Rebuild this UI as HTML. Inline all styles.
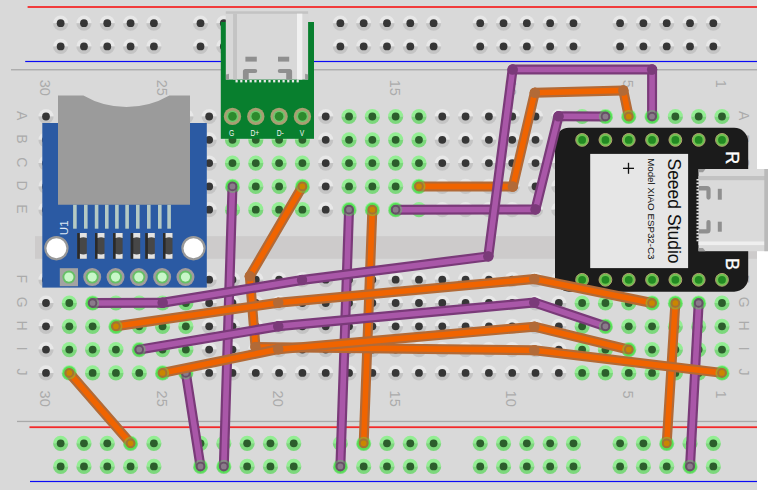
<!DOCTYPE html>
<html><head><meta charset="utf-8"><style>
html,body{margin:0;padding:0;background:#fff;width:768px;height:492px;overflow:hidden;}
svg{display:block;font-family:"Liberation Sans",sans-serif;}
</style></head><body>
<svg width="768" height="492" viewBox="0 0 768 492">
<rect width="768" height="492" fill="#ffffff"/>
<rect x="0" y="0" width="757" height="490" fill="#d9d9d9"/>
<rect x="27.6" y="6.1" width="729.4" height="1.8" fill="#f32a2a"/>
<rect x="25.2" y="60.9" width="731.8" height="1.2" fill="#0a0af5"/>
<rect x="11" y="69.1" width="746" height="1.3" fill="#a9a9a9"/>
<rect x="17" y="420.8" width="740" height="1.3" fill="#a9a9a9"/>
<rect x="29.5" y="426.3" width="727.5" height="1.8" fill="#f32a2a"/>
<rect x="30" y="480.9" width="727" height="1.2" fill="#0a0af5"/>
<rect x="35" y="236.1" width="722" height="22.7" fill="#cdcbcb"/>
<path d="M53.05 23.2A7.6 7.6 0 0 1 68.25 23.2Z" fill="#e8e8e8"/>
<path d="M53.05 23.2A7.6 7.6 0 0 0 68.25 23.2Z" fill="#c4c4c4"/>
<circle cx="60.65" cy="23.2" r="3.9" fill="#363636"/>
<path d="M53.05 46.4A7.6 7.6 0 0 1 68.25 46.4Z" fill="#e8e8e8"/>
<path d="M53.05 46.4A7.6 7.6 0 0 0 68.25 46.4Z" fill="#c4c4c4"/>
<circle cx="60.65" cy="46.4" r="3.9" fill="#363636"/>
<path d="M53.05 443.3A7.6 7.6 0 0 1 68.25 443.3Z" fill="#93ee93"/>
<path d="M53.05 443.3A7.6 7.6 0 0 0 68.25 443.3Z" fill="#7cd87c"/>
<circle cx="60.65" cy="443.3" r="3.9" fill="#2c5e2c"/>
<path d="M53.05 466.4A7.6 7.6 0 0 1 68.25 466.4Z" fill="#93ee93"/>
<path d="M53.05 466.4A7.6 7.6 0 0 0 68.25 466.4Z" fill="#7cd87c"/>
<circle cx="60.65" cy="466.4" r="3.9" fill="#2c5e2c"/>
<path d="M76.36 23.2A7.6 7.6 0 0 1 91.56 23.2Z" fill="#e8e8e8"/>
<path d="M76.36 23.2A7.6 7.6 0 0 0 91.56 23.2Z" fill="#c4c4c4"/>
<circle cx="83.96" cy="23.2" r="3.9" fill="#363636"/>
<path d="M76.36 46.4A7.6 7.6 0 0 1 91.56 46.4Z" fill="#e8e8e8"/>
<path d="M76.36 46.4A7.6 7.6 0 0 0 91.56 46.4Z" fill="#c4c4c4"/>
<circle cx="83.96" cy="46.4" r="3.9" fill="#363636"/>
<path d="M76.36 443.3A7.6 7.6 0 0 1 91.56 443.3Z" fill="#93ee93"/>
<path d="M76.36 443.3A7.6 7.6 0 0 0 91.56 443.3Z" fill="#7cd87c"/>
<circle cx="83.96" cy="443.3" r="3.9" fill="#2c5e2c"/>
<path d="M76.36 466.4A7.6 7.6 0 0 1 91.56 466.4Z" fill="#93ee93"/>
<path d="M76.36 466.4A7.6 7.6 0 0 0 91.56 466.4Z" fill="#7cd87c"/>
<circle cx="83.96" cy="466.4" r="3.9" fill="#2c5e2c"/>
<path d="M99.67 23.2A7.6 7.6 0 0 1 114.87 23.2Z" fill="#e8e8e8"/>
<path d="M99.67 23.2A7.6 7.6 0 0 0 114.87 23.2Z" fill="#c4c4c4"/>
<circle cx="107.27" cy="23.2" r="3.9" fill="#363636"/>
<path d="M99.67 46.4A7.6 7.6 0 0 1 114.87 46.4Z" fill="#e8e8e8"/>
<path d="M99.67 46.4A7.6 7.6 0 0 0 114.87 46.4Z" fill="#c4c4c4"/>
<circle cx="107.27" cy="46.4" r="3.9" fill="#363636"/>
<path d="M99.67 443.3A7.6 7.6 0 0 1 114.87 443.3Z" fill="#93ee93"/>
<path d="M99.67 443.3A7.6 7.6 0 0 0 114.87 443.3Z" fill="#7cd87c"/>
<circle cx="107.27" cy="443.3" r="3.9" fill="#2c5e2c"/>
<path d="M99.67 466.4A7.6 7.6 0 0 1 114.87 466.4Z" fill="#93ee93"/>
<path d="M99.67 466.4A7.6 7.6 0 0 0 114.87 466.4Z" fill="#7cd87c"/>
<circle cx="107.27" cy="466.4" r="3.9" fill="#2c5e2c"/>
<path d="M122.98 23.2A7.6 7.6 0 0 1 138.18 23.2Z" fill="#e8e8e8"/>
<path d="M122.98 23.2A7.6 7.6 0 0 0 138.18 23.2Z" fill="#c4c4c4"/>
<circle cx="130.58" cy="23.2" r="3.9" fill="#363636"/>
<path d="M122.98 46.4A7.6 7.6 0 0 1 138.18 46.4Z" fill="#e8e8e8"/>
<path d="M122.98 46.4A7.6 7.6 0 0 0 138.18 46.4Z" fill="#c4c4c4"/>
<circle cx="130.58" cy="46.4" r="3.9" fill="#363636"/>
<path d="M122.98 443.3A7.6 7.6 0 0 1 138.18 443.3Z" fill="#93ee93"/>
<path d="M122.98 443.3A7.6 7.6 0 0 0 138.18 443.3Z" fill="#7cd87c"/>
<circle cx="130.58" cy="443.3" r="3.9" fill="#2c5e2c"/>
<path d="M122.98 466.4A7.6 7.6 0 0 1 138.18 466.4Z" fill="#93ee93"/>
<path d="M122.98 466.4A7.6 7.6 0 0 0 138.18 466.4Z" fill="#7cd87c"/>
<circle cx="130.58" cy="466.4" r="3.9" fill="#2c5e2c"/>
<path d="M146.29 23.2A7.6 7.6 0 0 1 161.49 23.2Z" fill="#e8e8e8"/>
<path d="M146.29 23.2A7.6 7.6 0 0 0 161.49 23.2Z" fill="#c4c4c4"/>
<circle cx="153.89" cy="23.2" r="3.9" fill="#363636"/>
<path d="M146.29 46.4A7.6 7.6 0 0 1 161.49 46.4Z" fill="#e8e8e8"/>
<path d="M146.29 46.4A7.6 7.6 0 0 0 161.49 46.4Z" fill="#c4c4c4"/>
<circle cx="153.89" cy="46.4" r="3.9" fill="#363636"/>
<path d="M146.29 443.3A7.6 7.6 0 0 1 161.49 443.3Z" fill="#93ee93"/>
<path d="M146.29 443.3A7.6 7.6 0 0 0 161.49 443.3Z" fill="#7cd87c"/>
<circle cx="153.89" cy="443.3" r="3.9" fill="#2c5e2c"/>
<path d="M146.29 466.4A7.6 7.6 0 0 1 161.49 466.4Z" fill="#93ee93"/>
<path d="M146.29 466.4A7.6 7.6 0 0 0 161.49 466.4Z" fill="#7cd87c"/>
<circle cx="153.89" cy="466.4" r="3.9" fill="#2c5e2c"/>
<path d="M192.91 23.2A7.6 7.6 0 0 1 208.11 23.2Z" fill="#e8e8e8"/>
<path d="M192.91 23.2A7.6 7.6 0 0 0 208.11 23.2Z" fill="#c4c4c4"/>
<circle cx="200.51" cy="23.2" r="3.9" fill="#363636"/>
<path d="M192.91 46.4A7.6 7.6 0 0 1 208.11 46.4Z" fill="#e8e8e8"/>
<path d="M192.91 46.4A7.6 7.6 0 0 0 208.11 46.4Z" fill="#c4c4c4"/>
<circle cx="200.51" cy="46.4" r="3.9" fill="#363636"/>
<path d="M192.91 443.3A7.6 7.6 0 0 1 208.11 443.3Z" fill="#93ee93"/>
<path d="M192.91 443.3A7.6 7.6 0 0 0 208.11 443.3Z" fill="#7cd87c"/>
<circle cx="200.51" cy="443.3" r="3.9" fill="#2c5e2c"/>
<path d="M192.91 466.4A7.6 7.6 0 0 1 208.11 466.4Z" fill="#93ee93"/>
<path d="M192.91 466.4A7.6 7.6 0 0 0 208.11 466.4Z" fill="#7cd87c"/>
<circle cx="200.51" cy="466.4" r="3.9" fill="#2c5e2c"/>
<path d="M216.22 23.2A7.6 7.6 0 0 1 231.42 23.2Z" fill="#e8e8e8"/>
<path d="M216.22 23.2A7.6 7.6 0 0 0 231.42 23.2Z" fill="#c4c4c4"/>
<circle cx="223.82" cy="23.2" r="3.9" fill="#363636"/>
<path d="M216.22 46.4A7.6 7.6 0 0 1 231.42 46.4Z" fill="#e8e8e8"/>
<path d="M216.22 46.4A7.6 7.6 0 0 0 231.42 46.4Z" fill="#c4c4c4"/>
<circle cx="223.82" cy="46.4" r="3.9" fill="#363636"/>
<path d="M216.22 443.3A7.6 7.6 0 0 1 231.42 443.3Z" fill="#93ee93"/>
<path d="M216.22 443.3A7.6 7.6 0 0 0 231.42 443.3Z" fill="#7cd87c"/>
<circle cx="223.82" cy="443.3" r="3.9" fill="#2c5e2c"/>
<path d="M216.22 466.4A7.6 7.6 0 0 1 231.42 466.4Z" fill="#93ee93"/>
<path d="M216.22 466.4A7.6 7.6 0 0 0 231.42 466.4Z" fill="#7cd87c"/>
<circle cx="223.82" cy="466.4" r="3.9" fill="#2c5e2c"/>
<path d="M239.53 23.2A7.6 7.6 0 0 1 254.73 23.2Z" fill="#e8e8e8"/>
<path d="M239.53 23.2A7.6 7.6 0 0 0 254.73 23.2Z" fill="#c4c4c4"/>
<circle cx="247.13" cy="23.2" r="3.9" fill="#363636"/>
<path d="M239.53 46.4A7.6 7.6 0 0 1 254.73 46.4Z" fill="#e8e8e8"/>
<path d="M239.53 46.4A7.6 7.6 0 0 0 254.73 46.4Z" fill="#c4c4c4"/>
<circle cx="247.13" cy="46.4" r="3.9" fill="#363636"/>
<path d="M239.53 443.3A7.6 7.6 0 0 1 254.73 443.3Z" fill="#93ee93"/>
<path d="M239.53 443.3A7.6 7.6 0 0 0 254.73 443.3Z" fill="#7cd87c"/>
<circle cx="247.13" cy="443.3" r="3.9" fill="#2c5e2c"/>
<path d="M239.53 466.4A7.6 7.6 0 0 1 254.73 466.4Z" fill="#93ee93"/>
<path d="M239.53 466.4A7.6 7.6 0 0 0 254.73 466.4Z" fill="#7cd87c"/>
<circle cx="247.13" cy="466.4" r="3.9" fill="#2c5e2c"/>
<path d="M262.84 23.2A7.6 7.6 0 0 1 278.04 23.2Z" fill="#e8e8e8"/>
<path d="M262.84 23.2A7.6 7.6 0 0 0 278.04 23.2Z" fill="#c4c4c4"/>
<circle cx="270.44" cy="23.2" r="3.9" fill="#363636"/>
<path d="M262.84 46.4A7.6 7.6 0 0 1 278.04 46.4Z" fill="#e8e8e8"/>
<path d="M262.84 46.4A7.6 7.6 0 0 0 278.04 46.4Z" fill="#c4c4c4"/>
<circle cx="270.44" cy="46.4" r="3.9" fill="#363636"/>
<path d="M262.84 443.3A7.6 7.6 0 0 1 278.04 443.3Z" fill="#93ee93"/>
<path d="M262.84 443.3A7.6 7.6 0 0 0 278.04 443.3Z" fill="#7cd87c"/>
<circle cx="270.44" cy="443.3" r="3.9" fill="#2c5e2c"/>
<path d="M262.84 466.4A7.6 7.6 0 0 1 278.04 466.4Z" fill="#93ee93"/>
<path d="M262.84 466.4A7.6 7.6 0 0 0 278.04 466.4Z" fill="#7cd87c"/>
<circle cx="270.44" cy="466.4" r="3.9" fill="#2c5e2c"/>
<path d="M286.15 23.2A7.6 7.6 0 0 1 301.35 23.2Z" fill="#e8e8e8"/>
<path d="M286.15 23.2A7.6 7.6 0 0 0 301.35 23.2Z" fill="#c4c4c4"/>
<circle cx="293.75" cy="23.2" r="3.9" fill="#363636"/>
<path d="M286.15 46.4A7.6 7.6 0 0 1 301.35 46.4Z" fill="#e8e8e8"/>
<path d="M286.15 46.4A7.6 7.6 0 0 0 301.35 46.4Z" fill="#c4c4c4"/>
<circle cx="293.75" cy="46.4" r="3.9" fill="#363636"/>
<path d="M286.15 443.3A7.6 7.6 0 0 1 301.35 443.3Z" fill="#93ee93"/>
<path d="M286.15 443.3A7.6 7.6 0 0 0 301.35 443.3Z" fill="#7cd87c"/>
<circle cx="293.75" cy="443.3" r="3.9" fill="#2c5e2c"/>
<path d="M286.15 466.4A7.6 7.6 0 0 1 301.35 466.4Z" fill="#93ee93"/>
<path d="M286.15 466.4A7.6 7.6 0 0 0 301.35 466.4Z" fill="#7cd87c"/>
<circle cx="293.75" cy="466.4" r="3.9" fill="#2c5e2c"/>
<path d="M332.77 23.2A7.6 7.6 0 0 1 347.97 23.2Z" fill="#e8e8e8"/>
<path d="M332.77 23.2A7.6 7.6 0 0 0 347.97 23.2Z" fill="#c4c4c4"/>
<circle cx="340.37" cy="23.2" r="3.9" fill="#363636"/>
<path d="M332.77 46.4A7.6 7.6 0 0 1 347.97 46.4Z" fill="#e8e8e8"/>
<path d="M332.77 46.4A7.6 7.6 0 0 0 347.97 46.4Z" fill="#c4c4c4"/>
<circle cx="340.37" cy="46.4" r="3.9" fill="#363636"/>
<path d="M332.77 443.3A7.6 7.6 0 0 1 347.97 443.3Z" fill="#93ee93"/>
<path d="M332.77 443.3A7.6 7.6 0 0 0 347.97 443.3Z" fill="#7cd87c"/>
<circle cx="340.37" cy="443.3" r="3.9" fill="#2c5e2c"/>
<path d="M332.77 466.4A7.6 7.6 0 0 1 347.97 466.4Z" fill="#93ee93"/>
<path d="M332.77 466.4A7.6 7.6 0 0 0 347.97 466.4Z" fill="#7cd87c"/>
<circle cx="340.37" cy="466.4" r="3.9" fill="#2c5e2c"/>
<path d="M356.08 23.2A7.6 7.6 0 0 1 371.28 23.2Z" fill="#e8e8e8"/>
<path d="M356.08 23.2A7.6 7.6 0 0 0 371.28 23.2Z" fill="#c4c4c4"/>
<circle cx="363.68" cy="23.2" r="3.9" fill="#363636"/>
<path d="M356.08 46.4A7.6 7.6 0 0 1 371.28 46.4Z" fill="#e8e8e8"/>
<path d="M356.08 46.4A7.6 7.6 0 0 0 371.28 46.4Z" fill="#c4c4c4"/>
<circle cx="363.68" cy="46.4" r="3.9" fill="#363636"/>
<path d="M356.08 443.3A7.6 7.6 0 0 1 371.28 443.3Z" fill="#93ee93"/>
<path d="M356.08 443.3A7.6 7.6 0 0 0 371.28 443.3Z" fill="#7cd87c"/>
<circle cx="363.68" cy="443.3" r="3.9" fill="#2c5e2c"/>
<path d="M356.08 466.4A7.6 7.6 0 0 1 371.28 466.4Z" fill="#93ee93"/>
<path d="M356.08 466.4A7.6 7.6 0 0 0 371.28 466.4Z" fill="#7cd87c"/>
<circle cx="363.68" cy="466.4" r="3.9" fill="#2c5e2c"/>
<path d="M379.39 23.2A7.6 7.6 0 0 1 394.59 23.2Z" fill="#e8e8e8"/>
<path d="M379.39 23.2A7.6 7.6 0 0 0 394.59 23.2Z" fill="#c4c4c4"/>
<circle cx="386.99" cy="23.2" r="3.9" fill="#363636"/>
<path d="M379.39 46.4A7.6 7.6 0 0 1 394.59 46.4Z" fill="#e8e8e8"/>
<path d="M379.39 46.4A7.6 7.6 0 0 0 394.59 46.4Z" fill="#c4c4c4"/>
<circle cx="386.99" cy="46.4" r="3.9" fill="#363636"/>
<path d="M379.39 443.3A7.6 7.6 0 0 1 394.59 443.3Z" fill="#93ee93"/>
<path d="M379.39 443.3A7.6 7.6 0 0 0 394.59 443.3Z" fill="#7cd87c"/>
<circle cx="386.99" cy="443.3" r="3.9" fill="#2c5e2c"/>
<path d="M379.39 466.4A7.6 7.6 0 0 1 394.59 466.4Z" fill="#93ee93"/>
<path d="M379.39 466.4A7.6 7.6 0 0 0 394.59 466.4Z" fill="#7cd87c"/>
<circle cx="386.99" cy="466.4" r="3.9" fill="#2c5e2c"/>
<path d="M402.7 23.2A7.6 7.6 0 0 1 417.9 23.2Z" fill="#e8e8e8"/>
<path d="M402.7 23.2A7.6 7.6 0 0 0 417.9 23.2Z" fill="#c4c4c4"/>
<circle cx="410.3" cy="23.2" r="3.9" fill="#363636"/>
<path d="M402.7 46.4A7.6 7.6 0 0 1 417.9 46.4Z" fill="#e8e8e8"/>
<path d="M402.7 46.4A7.6 7.6 0 0 0 417.9 46.4Z" fill="#c4c4c4"/>
<circle cx="410.3" cy="46.4" r="3.9" fill="#363636"/>
<path d="M402.7 443.3A7.6 7.6 0 0 1 417.9 443.3Z" fill="#93ee93"/>
<path d="M402.7 443.3A7.6 7.6 0 0 0 417.9 443.3Z" fill="#7cd87c"/>
<circle cx="410.3" cy="443.3" r="3.9" fill="#2c5e2c"/>
<path d="M402.7 466.4A7.6 7.6 0 0 1 417.9 466.4Z" fill="#93ee93"/>
<path d="M402.7 466.4A7.6 7.6 0 0 0 417.9 466.4Z" fill="#7cd87c"/>
<circle cx="410.3" cy="466.4" r="3.9" fill="#2c5e2c"/>
<path d="M426.01 23.2A7.6 7.6 0 0 1 441.21 23.2Z" fill="#e8e8e8"/>
<path d="M426.01 23.2A7.6 7.6 0 0 0 441.21 23.2Z" fill="#c4c4c4"/>
<circle cx="433.61" cy="23.2" r="3.9" fill="#363636"/>
<path d="M426.01 46.4A7.6 7.6 0 0 1 441.21 46.4Z" fill="#e8e8e8"/>
<path d="M426.01 46.4A7.6 7.6 0 0 0 441.21 46.4Z" fill="#c4c4c4"/>
<circle cx="433.61" cy="46.4" r="3.9" fill="#363636"/>
<path d="M426.01 443.3A7.6 7.6 0 0 1 441.21 443.3Z" fill="#93ee93"/>
<path d="M426.01 443.3A7.6 7.6 0 0 0 441.21 443.3Z" fill="#7cd87c"/>
<circle cx="433.61" cy="443.3" r="3.9" fill="#2c5e2c"/>
<path d="M426.01 466.4A7.6 7.6 0 0 1 441.21 466.4Z" fill="#93ee93"/>
<path d="M426.01 466.4A7.6 7.6 0 0 0 441.21 466.4Z" fill="#7cd87c"/>
<circle cx="433.61" cy="466.4" r="3.9" fill="#2c5e2c"/>
<path d="M472.63 23.2A7.6 7.6 0 0 1 487.83 23.2Z" fill="#e8e8e8"/>
<path d="M472.63 23.2A7.6 7.6 0 0 0 487.83 23.2Z" fill="#c4c4c4"/>
<circle cx="480.23" cy="23.2" r="3.9" fill="#363636"/>
<path d="M472.63 46.4A7.6 7.6 0 0 1 487.83 46.4Z" fill="#e8e8e8"/>
<path d="M472.63 46.4A7.6 7.6 0 0 0 487.83 46.4Z" fill="#c4c4c4"/>
<circle cx="480.23" cy="46.4" r="3.9" fill="#363636"/>
<path d="M472.63 443.3A7.6 7.6 0 0 1 487.83 443.3Z" fill="#93ee93"/>
<path d="M472.63 443.3A7.6 7.6 0 0 0 487.83 443.3Z" fill="#7cd87c"/>
<circle cx="480.23" cy="443.3" r="3.9" fill="#2c5e2c"/>
<path d="M472.63 466.4A7.6 7.6 0 0 1 487.83 466.4Z" fill="#93ee93"/>
<path d="M472.63 466.4A7.6 7.6 0 0 0 487.83 466.4Z" fill="#7cd87c"/>
<circle cx="480.23" cy="466.4" r="3.9" fill="#2c5e2c"/>
<path d="M495.94 23.2A7.6 7.6 0 0 1 511.14 23.2Z" fill="#e8e8e8"/>
<path d="M495.94 23.2A7.6 7.6 0 0 0 511.14 23.2Z" fill="#c4c4c4"/>
<circle cx="503.54" cy="23.2" r="3.9" fill="#363636"/>
<path d="M495.94 46.4A7.6 7.6 0 0 1 511.14 46.4Z" fill="#e8e8e8"/>
<path d="M495.94 46.4A7.6 7.6 0 0 0 511.14 46.4Z" fill="#c4c4c4"/>
<circle cx="503.54" cy="46.4" r="3.9" fill="#363636"/>
<path d="M495.94 443.3A7.6 7.6 0 0 1 511.14 443.3Z" fill="#93ee93"/>
<path d="M495.94 443.3A7.6 7.6 0 0 0 511.14 443.3Z" fill="#7cd87c"/>
<circle cx="503.54" cy="443.3" r="3.9" fill="#2c5e2c"/>
<path d="M495.94 466.4A7.6 7.6 0 0 1 511.14 466.4Z" fill="#93ee93"/>
<path d="M495.94 466.4A7.6 7.6 0 0 0 511.14 466.4Z" fill="#7cd87c"/>
<circle cx="503.54" cy="466.4" r="3.9" fill="#2c5e2c"/>
<path d="M519.25 23.2A7.6 7.6 0 0 1 534.45 23.2Z" fill="#e8e8e8"/>
<path d="M519.25 23.2A7.6 7.6 0 0 0 534.45 23.2Z" fill="#c4c4c4"/>
<circle cx="526.85" cy="23.2" r="3.9" fill="#363636"/>
<path d="M519.25 46.4A7.6 7.6 0 0 1 534.45 46.4Z" fill="#e8e8e8"/>
<path d="M519.25 46.4A7.6 7.6 0 0 0 534.45 46.4Z" fill="#c4c4c4"/>
<circle cx="526.85" cy="46.4" r="3.9" fill="#363636"/>
<path d="M519.25 443.3A7.6 7.6 0 0 1 534.45 443.3Z" fill="#93ee93"/>
<path d="M519.25 443.3A7.6 7.6 0 0 0 534.45 443.3Z" fill="#7cd87c"/>
<circle cx="526.85" cy="443.3" r="3.9" fill="#2c5e2c"/>
<path d="M519.25 466.4A7.6 7.6 0 0 1 534.45 466.4Z" fill="#93ee93"/>
<path d="M519.25 466.4A7.6 7.6 0 0 0 534.45 466.4Z" fill="#7cd87c"/>
<circle cx="526.85" cy="466.4" r="3.9" fill="#2c5e2c"/>
<path d="M542.56 23.2A7.6 7.6 0 0 1 557.76 23.2Z" fill="#e8e8e8"/>
<path d="M542.56 23.2A7.6 7.6 0 0 0 557.76 23.2Z" fill="#c4c4c4"/>
<circle cx="550.16" cy="23.2" r="3.9" fill="#363636"/>
<path d="M542.56 46.4A7.6 7.6 0 0 1 557.76 46.4Z" fill="#e8e8e8"/>
<path d="M542.56 46.4A7.6 7.6 0 0 0 557.76 46.4Z" fill="#c4c4c4"/>
<circle cx="550.16" cy="46.4" r="3.9" fill="#363636"/>
<path d="M542.56 443.3A7.6 7.6 0 0 1 557.76 443.3Z" fill="#93ee93"/>
<path d="M542.56 443.3A7.6 7.6 0 0 0 557.76 443.3Z" fill="#7cd87c"/>
<circle cx="550.16" cy="443.3" r="3.9" fill="#2c5e2c"/>
<path d="M542.56 466.4A7.6 7.6 0 0 1 557.76 466.4Z" fill="#93ee93"/>
<path d="M542.56 466.4A7.6 7.6 0 0 0 557.76 466.4Z" fill="#7cd87c"/>
<circle cx="550.16" cy="466.4" r="3.9" fill="#2c5e2c"/>
<path d="M565.87 23.2A7.6 7.6 0 0 1 581.07 23.2Z" fill="#e8e8e8"/>
<path d="M565.87 23.2A7.6 7.6 0 0 0 581.07 23.2Z" fill="#c4c4c4"/>
<circle cx="573.47" cy="23.2" r="3.9" fill="#363636"/>
<path d="M565.87 46.4A7.6 7.6 0 0 1 581.07 46.4Z" fill="#e8e8e8"/>
<path d="M565.87 46.4A7.6 7.6 0 0 0 581.07 46.4Z" fill="#c4c4c4"/>
<circle cx="573.47" cy="46.4" r="3.9" fill="#363636"/>
<path d="M565.87 443.3A7.6 7.6 0 0 1 581.07 443.3Z" fill="#93ee93"/>
<path d="M565.87 443.3A7.6 7.6 0 0 0 581.07 443.3Z" fill="#7cd87c"/>
<circle cx="573.47" cy="443.3" r="3.9" fill="#2c5e2c"/>
<path d="M565.87 466.4A7.6 7.6 0 0 1 581.07 466.4Z" fill="#93ee93"/>
<path d="M565.87 466.4A7.6 7.6 0 0 0 581.07 466.4Z" fill="#7cd87c"/>
<circle cx="573.47" cy="466.4" r="3.9" fill="#2c5e2c"/>
<path d="M612.49 23.2A7.6 7.6 0 0 1 627.69 23.2Z" fill="#e8e8e8"/>
<path d="M612.49 23.2A7.6 7.6 0 0 0 627.69 23.2Z" fill="#c4c4c4"/>
<circle cx="620.09" cy="23.2" r="3.9" fill="#363636"/>
<path d="M612.49 46.4A7.6 7.6 0 0 1 627.69 46.4Z" fill="#e8e8e8"/>
<path d="M612.49 46.4A7.6 7.6 0 0 0 627.69 46.4Z" fill="#c4c4c4"/>
<circle cx="620.09" cy="46.4" r="3.9" fill="#363636"/>
<path d="M612.49 443.3A7.6 7.6 0 0 1 627.69 443.3Z" fill="#93ee93"/>
<path d="M612.49 443.3A7.6 7.6 0 0 0 627.69 443.3Z" fill="#7cd87c"/>
<circle cx="620.09" cy="443.3" r="3.9" fill="#2c5e2c"/>
<path d="M612.49 466.4A7.6 7.6 0 0 1 627.69 466.4Z" fill="#93ee93"/>
<path d="M612.49 466.4A7.6 7.6 0 0 0 627.69 466.4Z" fill="#7cd87c"/>
<circle cx="620.09" cy="466.4" r="3.9" fill="#2c5e2c"/>
<path d="M635.8 23.2A7.6 7.6 0 0 1 651 23.2Z" fill="#e8e8e8"/>
<path d="M635.8 23.2A7.6 7.6 0 0 0 651 23.2Z" fill="#c4c4c4"/>
<circle cx="643.4" cy="23.2" r="3.9" fill="#363636"/>
<path d="M635.8 46.4A7.6 7.6 0 0 1 651 46.4Z" fill="#e8e8e8"/>
<path d="M635.8 46.4A7.6 7.6 0 0 0 651 46.4Z" fill="#c4c4c4"/>
<circle cx="643.4" cy="46.4" r="3.9" fill="#363636"/>
<path d="M635.8 443.3A7.6 7.6 0 0 1 651 443.3Z" fill="#93ee93"/>
<path d="M635.8 443.3A7.6 7.6 0 0 0 651 443.3Z" fill="#7cd87c"/>
<circle cx="643.4" cy="443.3" r="3.9" fill="#2c5e2c"/>
<path d="M635.8 466.4A7.6 7.6 0 0 1 651 466.4Z" fill="#93ee93"/>
<path d="M635.8 466.4A7.6 7.6 0 0 0 651 466.4Z" fill="#7cd87c"/>
<circle cx="643.4" cy="466.4" r="3.9" fill="#2c5e2c"/>
<path d="M659.11 23.2A7.6 7.6 0 0 1 674.31 23.2Z" fill="#e8e8e8"/>
<path d="M659.11 23.2A7.6 7.6 0 0 0 674.31 23.2Z" fill="#c4c4c4"/>
<circle cx="666.71" cy="23.2" r="3.9" fill="#363636"/>
<path d="M659.11 46.4A7.6 7.6 0 0 1 674.31 46.4Z" fill="#e8e8e8"/>
<path d="M659.11 46.4A7.6 7.6 0 0 0 674.31 46.4Z" fill="#c4c4c4"/>
<circle cx="666.71" cy="46.4" r="3.9" fill="#363636"/>
<path d="M659.11 443.3A7.6 7.6 0 0 1 674.31 443.3Z" fill="#93ee93"/>
<path d="M659.11 443.3A7.6 7.6 0 0 0 674.31 443.3Z" fill="#7cd87c"/>
<circle cx="666.71" cy="443.3" r="3.9" fill="#2c5e2c"/>
<path d="M659.11 466.4A7.6 7.6 0 0 1 674.31 466.4Z" fill="#93ee93"/>
<path d="M659.11 466.4A7.6 7.6 0 0 0 674.31 466.4Z" fill="#7cd87c"/>
<circle cx="666.71" cy="466.4" r="3.9" fill="#2c5e2c"/>
<path d="M682.42 23.2A7.6 7.6 0 0 1 697.62 23.2Z" fill="#e8e8e8"/>
<path d="M682.42 23.2A7.6 7.6 0 0 0 697.62 23.2Z" fill="#c4c4c4"/>
<circle cx="690.02" cy="23.2" r="3.9" fill="#363636"/>
<path d="M682.42 46.4A7.6 7.6 0 0 1 697.62 46.4Z" fill="#e8e8e8"/>
<path d="M682.42 46.4A7.6 7.6 0 0 0 697.62 46.4Z" fill="#c4c4c4"/>
<circle cx="690.02" cy="46.4" r="3.9" fill="#363636"/>
<path d="M682.42 443.3A7.6 7.6 0 0 1 697.62 443.3Z" fill="#93ee93"/>
<path d="M682.42 443.3A7.6 7.6 0 0 0 697.62 443.3Z" fill="#7cd87c"/>
<circle cx="690.02" cy="443.3" r="3.9" fill="#2c5e2c"/>
<path d="M682.42 466.4A7.6 7.6 0 0 1 697.62 466.4Z" fill="#93ee93"/>
<path d="M682.42 466.4A7.6 7.6 0 0 0 697.62 466.4Z" fill="#7cd87c"/>
<circle cx="690.02" cy="466.4" r="3.9" fill="#2c5e2c"/>
<path d="M705.73 23.2A7.6 7.6 0 0 1 720.93 23.2Z" fill="#e8e8e8"/>
<path d="M705.73 23.2A7.6 7.6 0 0 0 720.93 23.2Z" fill="#c4c4c4"/>
<circle cx="713.33" cy="23.2" r="3.9" fill="#363636"/>
<path d="M705.73 46.4A7.6 7.6 0 0 1 720.93 46.4Z" fill="#e8e8e8"/>
<path d="M705.73 46.4A7.6 7.6 0 0 0 720.93 46.4Z" fill="#c4c4c4"/>
<circle cx="713.33" cy="46.4" r="3.9" fill="#363636"/>
<path d="M705.73 443.3A7.6 7.6 0 0 1 720.93 443.3Z" fill="#93ee93"/>
<path d="M705.73 443.3A7.6 7.6 0 0 0 720.93 443.3Z" fill="#7cd87c"/>
<circle cx="713.33" cy="443.3" r="3.9" fill="#2c5e2c"/>
<path d="M705.73 466.4A7.6 7.6 0 0 1 720.93 466.4Z" fill="#93ee93"/>
<path d="M705.73 466.4A7.6 7.6 0 0 0 720.93 466.4Z" fill="#7cd87c"/>
<circle cx="713.33" cy="466.4" r="3.9" fill="#2c5e2c"/>
<path d="M38.4 116.5A7.6 7.6 0 0 1 53.6 116.5Z" fill="#e8e8e8"/>
<path d="M38.4 116.5A7.6 7.6 0 0 0 53.6 116.5Z" fill="#c4c4c4"/>
<circle cx="46" cy="116.5" r="3.9" fill="#363636"/>
<path d="M38.4 139.8A7.6 7.6 0 0 1 53.6 139.8Z" fill="#e8e8e8"/>
<path d="M38.4 139.8A7.6 7.6 0 0 0 53.6 139.8Z" fill="#c4c4c4"/>
<circle cx="46" cy="139.8" r="3.9" fill="#363636"/>
<path d="M38.4 163.1A7.6 7.6 0 0 1 53.6 163.1Z" fill="#e8e8e8"/>
<path d="M38.4 163.1A7.6 7.6 0 0 0 53.6 163.1Z" fill="#c4c4c4"/>
<circle cx="46" cy="163.1" r="3.9" fill="#363636"/>
<path d="M38.4 186.4A7.6 7.6 0 0 1 53.6 186.4Z" fill="#e8e8e8"/>
<path d="M38.4 186.4A7.6 7.6 0 0 0 53.6 186.4Z" fill="#c4c4c4"/>
<circle cx="46" cy="186.4" r="3.9" fill="#363636"/>
<path d="M38.4 209.7A7.6 7.6 0 0 1 53.6 209.7Z" fill="#e8e8e8"/>
<path d="M38.4 209.7A7.6 7.6 0 0 0 53.6 209.7Z" fill="#c4c4c4"/>
<circle cx="46" cy="209.7" r="3.9" fill="#363636"/>
<path d="M38.4 279.7A7.6 7.6 0 0 1 53.6 279.7Z" fill="#e8e8e8"/>
<path d="M38.4 279.7A7.6 7.6 0 0 0 53.6 279.7Z" fill="#c4c4c4"/>
<circle cx="46" cy="279.7" r="3.9" fill="#363636"/>
<path d="M38.4 303A7.6 7.6 0 0 1 53.6 303Z" fill="#e8e8e8"/>
<path d="M38.4 303A7.6 7.6 0 0 0 53.6 303Z" fill="#c4c4c4"/>
<circle cx="46" cy="303" r="3.9" fill="#363636"/>
<path d="M38.4 326.3A7.6 7.6 0 0 1 53.6 326.3Z" fill="#e8e8e8"/>
<path d="M38.4 326.3A7.6 7.6 0 0 0 53.6 326.3Z" fill="#c4c4c4"/>
<circle cx="46" cy="326.3" r="3.9" fill="#363636"/>
<path d="M38.4 349.6A7.6 7.6 0 0 1 53.6 349.6Z" fill="#e8e8e8"/>
<path d="M38.4 349.6A7.6 7.6 0 0 0 53.6 349.6Z" fill="#c4c4c4"/>
<circle cx="46" cy="349.6" r="3.9" fill="#363636"/>
<path d="M38.4 372.9A7.6 7.6 0 0 1 53.6 372.9Z" fill="#e8e8e8"/>
<path d="M38.4 372.9A7.6 7.6 0 0 0 53.6 372.9Z" fill="#c4c4c4"/>
<circle cx="46" cy="372.9" r="3.9" fill="#363636"/>
<path d="M61.71 116.5A7.6 7.6 0 0 1 76.91 116.5Z" fill="#e8e8e8"/>
<path d="M61.71 116.5A7.6 7.6 0 0 0 76.91 116.5Z" fill="#c4c4c4"/>
<circle cx="69.31" cy="116.5" r="3.9" fill="#363636"/>
<path d="M61.71 139.8A7.6 7.6 0 0 1 76.91 139.8Z" fill="#e8e8e8"/>
<path d="M61.71 139.8A7.6 7.6 0 0 0 76.91 139.8Z" fill="#c4c4c4"/>
<circle cx="69.31" cy="139.8" r="3.9" fill="#363636"/>
<path d="M61.71 163.1A7.6 7.6 0 0 1 76.91 163.1Z" fill="#e8e8e8"/>
<path d="M61.71 163.1A7.6 7.6 0 0 0 76.91 163.1Z" fill="#c4c4c4"/>
<circle cx="69.31" cy="163.1" r="3.9" fill="#363636"/>
<path d="M61.71 186.4A7.6 7.6 0 0 1 76.91 186.4Z" fill="#e8e8e8"/>
<path d="M61.71 186.4A7.6 7.6 0 0 0 76.91 186.4Z" fill="#c4c4c4"/>
<circle cx="69.31" cy="186.4" r="3.9" fill="#363636"/>
<path d="M61.71 209.7A7.6 7.6 0 0 1 76.91 209.7Z" fill="#e8e8e8"/>
<path d="M61.71 209.7A7.6 7.6 0 0 0 76.91 209.7Z" fill="#c4c4c4"/>
<circle cx="69.31" cy="209.7" r="3.9" fill="#363636"/>
<path d="M61.71 279.7A7.6 7.6 0 0 1 76.91 279.7Z" fill="#93ee93"/>
<path d="M61.71 279.7A7.6 7.6 0 0 0 76.91 279.7Z" fill="#7cd87c"/>
<circle cx="69.31" cy="279.7" r="3.9" fill="#2c5e2c"/>
<path d="M61.71 303A7.6 7.6 0 0 1 76.91 303Z" fill="#93ee93"/>
<path d="M61.71 303A7.6 7.6 0 0 0 76.91 303Z" fill="#7cd87c"/>
<circle cx="69.31" cy="303" r="3.9" fill="#2c5e2c"/>
<path d="M61.71 326.3A7.6 7.6 0 0 1 76.91 326.3Z" fill="#93ee93"/>
<path d="M61.71 326.3A7.6 7.6 0 0 0 76.91 326.3Z" fill="#7cd87c"/>
<circle cx="69.31" cy="326.3" r="3.9" fill="#2c5e2c"/>
<path d="M61.71 349.6A7.6 7.6 0 0 1 76.91 349.6Z" fill="#93ee93"/>
<path d="M61.71 349.6A7.6 7.6 0 0 0 76.91 349.6Z" fill="#7cd87c"/>
<circle cx="69.31" cy="349.6" r="3.9" fill="#2c5e2c"/>
<path d="M61.71 372.9A7.6 7.6 0 0 1 76.91 372.9Z" fill="#93ee93"/>
<path d="M61.71 372.9A7.6 7.6 0 0 0 76.91 372.9Z" fill="#7cd87c"/>
<circle cx="69.31" cy="372.9" r="3.9" fill="#2c5e2c"/>
<path d="M85.02 116.5A7.6 7.6 0 0 1 100.22 116.5Z" fill="#e8e8e8"/>
<path d="M85.02 116.5A7.6 7.6 0 0 0 100.22 116.5Z" fill="#c4c4c4"/>
<circle cx="92.62" cy="116.5" r="3.9" fill="#363636"/>
<path d="M85.02 139.8A7.6 7.6 0 0 1 100.22 139.8Z" fill="#e8e8e8"/>
<path d="M85.02 139.8A7.6 7.6 0 0 0 100.22 139.8Z" fill="#c4c4c4"/>
<circle cx="92.62" cy="139.8" r="3.9" fill="#363636"/>
<path d="M85.02 163.1A7.6 7.6 0 0 1 100.22 163.1Z" fill="#e8e8e8"/>
<path d="M85.02 163.1A7.6 7.6 0 0 0 100.22 163.1Z" fill="#c4c4c4"/>
<circle cx="92.62" cy="163.1" r="3.9" fill="#363636"/>
<path d="M85.02 186.4A7.6 7.6 0 0 1 100.22 186.4Z" fill="#e8e8e8"/>
<path d="M85.02 186.4A7.6 7.6 0 0 0 100.22 186.4Z" fill="#c4c4c4"/>
<circle cx="92.62" cy="186.4" r="3.9" fill="#363636"/>
<path d="M85.02 209.7A7.6 7.6 0 0 1 100.22 209.7Z" fill="#e8e8e8"/>
<path d="M85.02 209.7A7.6 7.6 0 0 0 100.22 209.7Z" fill="#c4c4c4"/>
<circle cx="92.62" cy="209.7" r="3.9" fill="#363636"/>
<path d="M85.02 279.7A7.6 7.6 0 0 1 100.22 279.7Z" fill="#93ee93"/>
<path d="M85.02 279.7A7.6 7.6 0 0 0 100.22 279.7Z" fill="#7cd87c"/>
<circle cx="92.62" cy="279.7" r="3.9" fill="#2c5e2c"/>
<path d="M85.02 303A7.6 7.6 0 0 1 100.22 303Z" fill="#93ee93"/>
<path d="M85.02 303A7.6 7.6 0 0 0 100.22 303Z" fill="#7cd87c"/>
<circle cx="92.62" cy="303" r="3.9" fill="#2c5e2c"/>
<path d="M85.02 326.3A7.6 7.6 0 0 1 100.22 326.3Z" fill="#93ee93"/>
<path d="M85.02 326.3A7.6 7.6 0 0 0 100.22 326.3Z" fill="#7cd87c"/>
<circle cx="92.62" cy="326.3" r="3.9" fill="#2c5e2c"/>
<path d="M85.02 349.6A7.6 7.6 0 0 1 100.22 349.6Z" fill="#93ee93"/>
<path d="M85.02 349.6A7.6 7.6 0 0 0 100.22 349.6Z" fill="#7cd87c"/>
<circle cx="92.62" cy="349.6" r="3.9" fill="#2c5e2c"/>
<path d="M85.02 372.9A7.6 7.6 0 0 1 100.22 372.9Z" fill="#93ee93"/>
<path d="M85.02 372.9A7.6 7.6 0 0 0 100.22 372.9Z" fill="#7cd87c"/>
<circle cx="92.62" cy="372.9" r="3.9" fill="#2c5e2c"/>
<path d="M108.33 116.5A7.6 7.6 0 0 1 123.53 116.5Z" fill="#e8e8e8"/>
<path d="M108.33 116.5A7.6 7.6 0 0 0 123.53 116.5Z" fill="#c4c4c4"/>
<circle cx="115.93" cy="116.5" r="3.9" fill="#363636"/>
<path d="M108.33 139.8A7.6 7.6 0 0 1 123.53 139.8Z" fill="#e8e8e8"/>
<path d="M108.33 139.8A7.6 7.6 0 0 0 123.53 139.8Z" fill="#c4c4c4"/>
<circle cx="115.93" cy="139.8" r="3.9" fill="#363636"/>
<path d="M108.33 163.1A7.6 7.6 0 0 1 123.53 163.1Z" fill="#e8e8e8"/>
<path d="M108.33 163.1A7.6 7.6 0 0 0 123.53 163.1Z" fill="#c4c4c4"/>
<circle cx="115.93" cy="163.1" r="3.9" fill="#363636"/>
<path d="M108.33 186.4A7.6 7.6 0 0 1 123.53 186.4Z" fill="#e8e8e8"/>
<path d="M108.33 186.4A7.6 7.6 0 0 0 123.53 186.4Z" fill="#c4c4c4"/>
<circle cx="115.93" cy="186.4" r="3.9" fill="#363636"/>
<path d="M108.33 209.7A7.6 7.6 0 0 1 123.53 209.7Z" fill="#e8e8e8"/>
<path d="M108.33 209.7A7.6 7.6 0 0 0 123.53 209.7Z" fill="#c4c4c4"/>
<circle cx="115.93" cy="209.7" r="3.9" fill="#363636"/>
<path d="M108.33 279.7A7.6 7.6 0 0 1 123.53 279.7Z" fill="#93ee93"/>
<path d="M108.33 279.7A7.6 7.6 0 0 0 123.53 279.7Z" fill="#7cd87c"/>
<circle cx="115.93" cy="279.7" r="3.9" fill="#2c5e2c"/>
<path d="M108.33 303A7.6 7.6 0 0 1 123.53 303Z" fill="#93ee93"/>
<path d="M108.33 303A7.6 7.6 0 0 0 123.53 303Z" fill="#7cd87c"/>
<circle cx="115.93" cy="303" r="3.9" fill="#2c5e2c"/>
<path d="M108.33 326.3A7.6 7.6 0 0 1 123.53 326.3Z" fill="#93ee93"/>
<path d="M108.33 326.3A7.6 7.6 0 0 0 123.53 326.3Z" fill="#7cd87c"/>
<circle cx="115.93" cy="326.3" r="3.9" fill="#2c5e2c"/>
<path d="M108.33 349.6A7.6 7.6 0 0 1 123.53 349.6Z" fill="#93ee93"/>
<path d="M108.33 349.6A7.6 7.6 0 0 0 123.53 349.6Z" fill="#7cd87c"/>
<circle cx="115.93" cy="349.6" r="3.9" fill="#2c5e2c"/>
<path d="M108.33 372.9A7.6 7.6 0 0 1 123.53 372.9Z" fill="#93ee93"/>
<path d="M108.33 372.9A7.6 7.6 0 0 0 123.53 372.9Z" fill="#7cd87c"/>
<circle cx="115.93" cy="372.9" r="3.9" fill="#2c5e2c"/>
<path d="M131.64 116.5A7.6 7.6 0 0 1 146.84 116.5Z" fill="#e8e8e8"/>
<path d="M131.64 116.5A7.6 7.6 0 0 0 146.84 116.5Z" fill="#c4c4c4"/>
<circle cx="139.24" cy="116.5" r="3.9" fill="#363636"/>
<path d="M131.64 139.8A7.6 7.6 0 0 1 146.84 139.8Z" fill="#e8e8e8"/>
<path d="M131.64 139.8A7.6 7.6 0 0 0 146.84 139.8Z" fill="#c4c4c4"/>
<circle cx="139.24" cy="139.8" r="3.9" fill="#363636"/>
<path d="M131.64 163.1A7.6 7.6 0 0 1 146.84 163.1Z" fill="#e8e8e8"/>
<path d="M131.64 163.1A7.6 7.6 0 0 0 146.84 163.1Z" fill="#c4c4c4"/>
<circle cx="139.24" cy="163.1" r="3.9" fill="#363636"/>
<path d="M131.64 186.4A7.6 7.6 0 0 1 146.84 186.4Z" fill="#e8e8e8"/>
<path d="M131.64 186.4A7.6 7.6 0 0 0 146.84 186.4Z" fill="#c4c4c4"/>
<circle cx="139.24" cy="186.4" r="3.9" fill="#363636"/>
<path d="M131.64 209.7A7.6 7.6 0 0 1 146.84 209.7Z" fill="#e8e8e8"/>
<path d="M131.64 209.7A7.6 7.6 0 0 0 146.84 209.7Z" fill="#c4c4c4"/>
<circle cx="139.24" cy="209.7" r="3.9" fill="#363636"/>
<path d="M131.64 279.7A7.6 7.6 0 0 1 146.84 279.7Z" fill="#93ee93"/>
<path d="M131.64 279.7A7.6 7.6 0 0 0 146.84 279.7Z" fill="#7cd87c"/>
<circle cx="139.24" cy="279.7" r="3.9" fill="#2c5e2c"/>
<path d="M131.64 303A7.6 7.6 0 0 1 146.84 303Z" fill="#93ee93"/>
<path d="M131.64 303A7.6 7.6 0 0 0 146.84 303Z" fill="#7cd87c"/>
<circle cx="139.24" cy="303" r="3.9" fill="#2c5e2c"/>
<path d="M131.64 326.3A7.6 7.6 0 0 1 146.84 326.3Z" fill="#93ee93"/>
<path d="M131.64 326.3A7.6 7.6 0 0 0 146.84 326.3Z" fill="#7cd87c"/>
<circle cx="139.24" cy="326.3" r="3.9" fill="#2c5e2c"/>
<path d="M131.64 349.6A7.6 7.6 0 0 1 146.84 349.6Z" fill="#93ee93"/>
<path d="M131.64 349.6A7.6 7.6 0 0 0 146.84 349.6Z" fill="#7cd87c"/>
<circle cx="139.24" cy="349.6" r="3.9" fill="#2c5e2c"/>
<path d="M131.64 372.9A7.6 7.6 0 0 1 146.84 372.9Z" fill="#93ee93"/>
<path d="M131.64 372.9A7.6 7.6 0 0 0 146.84 372.9Z" fill="#7cd87c"/>
<circle cx="139.24" cy="372.9" r="3.9" fill="#2c5e2c"/>
<path d="M154.95 116.5A7.6 7.6 0 0 1 170.15 116.5Z" fill="#e8e8e8"/>
<path d="M154.95 116.5A7.6 7.6 0 0 0 170.15 116.5Z" fill="#c4c4c4"/>
<circle cx="162.55" cy="116.5" r="3.9" fill="#363636"/>
<path d="M154.95 139.8A7.6 7.6 0 0 1 170.15 139.8Z" fill="#e8e8e8"/>
<path d="M154.95 139.8A7.6 7.6 0 0 0 170.15 139.8Z" fill="#c4c4c4"/>
<circle cx="162.55" cy="139.8" r="3.9" fill="#363636"/>
<path d="M154.95 163.1A7.6 7.6 0 0 1 170.15 163.1Z" fill="#e8e8e8"/>
<path d="M154.95 163.1A7.6 7.6 0 0 0 170.15 163.1Z" fill="#c4c4c4"/>
<circle cx="162.55" cy="163.1" r="3.9" fill="#363636"/>
<path d="M154.95 186.4A7.6 7.6 0 0 1 170.15 186.4Z" fill="#e8e8e8"/>
<path d="M154.95 186.4A7.6 7.6 0 0 0 170.15 186.4Z" fill="#c4c4c4"/>
<circle cx="162.55" cy="186.4" r="3.9" fill="#363636"/>
<path d="M154.95 209.7A7.6 7.6 0 0 1 170.15 209.7Z" fill="#e8e8e8"/>
<path d="M154.95 209.7A7.6 7.6 0 0 0 170.15 209.7Z" fill="#c4c4c4"/>
<circle cx="162.55" cy="209.7" r="3.9" fill="#363636"/>
<path d="M154.95 279.7A7.6 7.6 0 0 1 170.15 279.7Z" fill="#93ee93"/>
<path d="M154.95 279.7A7.6 7.6 0 0 0 170.15 279.7Z" fill="#7cd87c"/>
<circle cx="162.55" cy="279.7" r="3.9" fill="#2c5e2c"/>
<path d="M154.95 303A7.6 7.6 0 0 1 170.15 303Z" fill="#93ee93"/>
<path d="M154.95 303A7.6 7.6 0 0 0 170.15 303Z" fill="#7cd87c"/>
<circle cx="162.55" cy="303" r="3.9" fill="#2c5e2c"/>
<path d="M154.95 326.3A7.6 7.6 0 0 1 170.15 326.3Z" fill="#93ee93"/>
<path d="M154.95 326.3A7.6 7.6 0 0 0 170.15 326.3Z" fill="#7cd87c"/>
<circle cx="162.55" cy="326.3" r="3.9" fill="#2c5e2c"/>
<path d="M154.95 349.6A7.6 7.6 0 0 1 170.15 349.6Z" fill="#93ee93"/>
<path d="M154.95 349.6A7.6 7.6 0 0 0 170.15 349.6Z" fill="#7cd87c"/>
<circle cx="162.55" cy="349.6" r="3.9" fill="#2c5e2c"/>
<path d="M154.95 372.9A7.6 7.6 0 0 1 170.15 372.9Z" fill="#93ee93"/>
<path d="M154.95 372.9A7.6 7.6 0 0 0 170.15 372.9Z" fill="#7cd87c"/>
<circle cx="162.55" cy="372.9" r="3.9" fill="#2c5e2c"/>
<path d="M178.26 116.5A7.6 7.6 0 0 1 193.46 116.5Z" fill="#e8e8e8"/>
<path d="M178.26 116.5A7.6 7.6 0 0 0 193.46 116.5Z" fill="#c4c4c4"/>
<circle cx="185.86" cy="116.5" r="3.9" fill="#363636"/>
<path d="M178.26 139.8A7.6 7.6 0 0 1 193.46 139.8Z" fill="#e8e8e8"/>
<path d="M178.26 139.8A7.6 7.6 0 0 0 193.46 139.8Z" fill="#c4c4c4"/>
<circle cx="185.86" cy="139.8" r="3.9" fill="#363636"/>
<path d="M178.26 163.1A7.6 7.6 0 0 1 193.46 163.1Z" fill="#e8e8e8"/>
<path d="M178.26 163.1A7.6 7.6 0 0 0 193.46 163.1Z" fill="#c4c4c4"/>
<circle cx="185.86" cy="163.1" r="3.9" fill="#363636"/>
<path d="M178.26 186.4A7.6 7.6 0 0 1 193.46 186.4Z" fill="#e8e8e8"/>
<path d="M178.26 186.4A7.6 7.6 0 0 0 193.46 186.4Z" fill="#c4c4c4"/>
<circle cx="185.86" cy="186.4" r="3.9" fill="#363636"/>
<path d="M178.26 209.7A7.6 7.6 0 0 1 193.46 209.7Z" fill="#e8e8e8"/>
<path d="M178.26 209.7A7.6 7.6 0 0 0 193.46 209.7Z" fill="#c4c4c4"/>
<circle cx="185.86" cy="209.7" r="3.9" fill="#363636"/>
<path d="M178.26 279.7A7.6 7.6 0 0 1 193.46 279.7Z" fill="#93ee93"/>
<path d="M178.26 279.7A7.6 7.6 0 0 0 193.46 279.7Z" fill="#7cd87c"/>
<circle cx="185.86" cy="279.7" r="3.9" fill="#2c5e2c"/>
<path d="M178.26 303A7.6 7.6 0 0 1 193.46 303Z" fill="#93ee93"/>
<path d="M178.26 303A7.6 7.6 0 0 0 193.46 303Z" fill="#7cd87c"/>
<circle cx="185.86" cy="303" r="3.9" fill="#2c5e2c"/>
<path d="M178.26 326.3A7.6 7.6 0 0 1 193.46 326.3Z" fill="#93ee93"/>
<path d="M178.26 326.3A7.6 7.6 0 0 0 193.46 326.3Z" fill="#7cd87c"/>
<circle cx="185.86" cy="326.3" r="3.9" fill="#2c5e2c"/>
<path d="M178.26 349.6A7.6 7.6 0 0 1 193.46 349.6Z" fill="#93ee93"/>
<path d="M178.26 349.6A7.6 7.6 0 0 0 193.46 349.6Z" fill="#7cd87c"/>
<circle cx="185.86" cy="349.6" r="3.9" fill="#2c5e2c"/>
<path d="M178.26 372.9A7.6 7.6 0 0 1 193.46 372.9Z" fill="#93ee93"/>
<path d="M178.26 372.9A7.6 7.6 0 0 0 193.46 372.9Z" fill="#7cd87c"/>
<circle cx="185.86" cy="372.9" r="3.9" fill="#2c5e2c"/>
<path d="M201.57 116.5A7.6 7.6 0 0 1 216.77 116.5Z" fill="#e8e8e8"/>
<path d="M201.57 116.5A7.6 7.6 0 0 0 216.77 116.5Z" fill="#c4c4c4"/>
<circle cx="209.17" cy="116.5" r="3.9" fill="#363636"/>
<path d="M201.57 139.8A7.6 7.6 0 0 1 216.77 139.8Z" fill="#e8e8e8"/>
<path d="M201.57 139.8A7.6 7.6 0 0 0 216.77 139.8Z" fill="#c4c4c4"/>
<circle cx="209.17" cy="139.8" r="3.9" fill="#363636"/>
<path d="M201.57 163.1A7.6 7.6 0 0 1 216.77 163.1Z" fill="#e8e8e8"/>
<path d="M201.57 163.1A7.6 7.6 0 0 0 216.77 163.1Z" fill="#c4c4c4"/>
<circle cx="209.17" cy="163.1" r="3.9" fill="#363636"/>
<path d="M201.57 186.4A7.6 7.6 0 0 1 216.77 186.4Z" fill="#e8e8e8"/>
<path d="M201.57 186.4A7.6 7.6 0 0 0 216.77 186.4Z" fill="#c4c4c4"/>
<circle cx="209.17" cy="186.4" r="3.9" fill="#363636"/>
<path d="M201.57 209.7A7.6 7.6 0 0 1 216.77 209.7Z" fill="#e8e8e8"/>
<path d="M201.57 209.7A7.6 7.6 0 0 0 216.77 209.7Z" fill="#c4c4c4"/>
<circle cx="209.17" cy="209.7" r="3.9" fill="#363636"/>
<path d="M201.57 279.7A7.6 7.6 0 0 1 216.77 279.7Z" fill="#e8e8e8"/>
<path d="M201.57 279.7A7.6 7.6 0 0 0 216.77 279.7Z" fill="#c4c4c4"/>
<circle cx="209.17" cy="279.7" r="3.9" fill="#363636"/>
<path d="M201.57 303A7.6 7.6 0 0 1 216.77 303Z" fill="#e8e8e8"/>
<path d="M201.57 303A7.6 7.6 0 0 0 216.77 303Z" fill="#c4c4c4"/>
<circle cx="209.17" cy="303" r="3.9" fill="#363636"/>
<path d="M201.57 326.3A7.6 7.6 0 0 1 216.77 326.3Z" fill="#e8e8e8"/>
<path d="M201.57 326.3A7.6 7.6 0 0 0 216.77 326.3Z" fill="#c4c4c4"/>
<circle cx="209.17" cy="326.3" r="3.9" fill="#363636"/>
<path d="M201.57 349.6A7.6 7.6 0 0 1 216.77 349.6Z" fill="#e8e8e8"/>
<path d="M201.57 349.6A7.6 7.6 0 0 0 216.77 349.6Z" fill="#c4c4c4"/>
<circle cx="209.17" cy="349.6" r="3.9" fill="#363636"/>
<path d="M201.57 372.9A7.6 7.6 0 0 1 216.77 372.9Z" fill="#e8e8e8"/>
<path d="M201.57 372.9A7.6 7.6 0 0 0 216.77 372.9Z" fill="#c4c4c4"/>
<circle cx="209.17" cy="372.9" r="3.9" fill="#363636"/>
<path d="M224.88 116.5A7.6 7.6 0 0 1 240.08 116.5Z" fill="#93ee93"/>
<path d="M224.88 116.5A7.6 7.6 0 0 0 240.08 116.5Z" fill="#7cd87c"/>
<circle cx="232.48" cy="116.5" r="3.9" fill="#2c5e2c"/>
<path d="M224.88 139.8A7.6 7.6 0 0 1 240.08 139.8Z" fill="#93ee93"/>
<path d="M224.88 139.8A7.6 7.6 0 0 0 240.08 139.8Z" fill="#7cd87c"/>
<circle cx="232.48" cy="139.8" r="3.9" fill="#2c5e2c"/>
<path d="M224.88 163.1A7.6 7.6 0 0 1 240.08 163.1Z" fill="#93ee93"/>
<path d="M224.88 163.1A7.6 7.6 0 0 0 240.08 163.1Z" fill="#7cd87c"/>
<circle cx="232.48" cy="163.1" r="3.9" fill="#2c5e2c"/>
<path d="M224.88 186.4A7.6 7.6 0 0 1 240.08 186.4Z" fill="#93ee93"/>
<path d="M224.88 186.4A7.6 7.6 0 0 0 240.08 186.4Z" fill="#7cd87c"/>
<circle cx="232.48" cy="186.4" r="3.9" fill="#2c5e2c"/>
<path d="M224.88 209.7A7.6 7.6 0 0 1 240.08 209.7Z" fill="#93ee93"/>
<path d="M224.88 209.7A7.6 7.6 0 0 0 240.08 209.7Z" fill="#7cd87c"/>
<circle cx="232.48" cy="209.7" r="3.9" fill="#2c5e2c"/>
<path d="M224.88 279.7A7.6 7.6 0 0 1 240.08 279.7Z" fill="#e8e8e8"/>
<path d="M224.88 279.7A7.6 7.6 0 0 0 240.08 279.7Z" fill="#c4c4c4"/>
<circle cx="232.48" cy="279.7" r="3.9" fill="#363636"/>
<path d="M224.88 303A7.6 7.6 0 0 1 240.08 303Z" fill="#e8e8e8"/>
<path d="M224.88 303A7.6 7.6 0 0 0 240.08 303Z" fill="#c4c4c4"/>
<circle cx="232.48" cy="303" r="3.9" fill="#363636"/>
<path d="M224.88 326.3A7.6 7.6 0 0 1 240.08 326.3Z" fill="#e8e8e8"/>
<path d="M224.88 326.3A7.6 7.6 0 0 0 240.08 326.3Z" fill="#c4c4c4"/>
<circle cx="232.48" cy="326.3" r="3.9" fill="#363636"/>
<path d="M224.88 349.6A7.6 7.6 0 0 1 240.08 349.6Z" fill="#e8e8e8"/>
<path d="M224.88 349.6A7.6 7.6 0 0 0 240.08 349.6Z" fill="#c4c4c4"/>
<circle cx="232.48" cy="349.6" r="3.9" fill="#363636"/>
<path d="M224.88 372.9A7.6 7.6 0 0 1 240.08 372.9Z" fill="#e8e8e8"/>
<path d="M224.88 372.9A7.6 7.6 0 0 0 240.08 372.9Z" fill="#c4c4c4"/>
<circle cx="232.48" cy="372.9" r="3.9" fill="#363636"/>
<path d="M248.19 116.5A7.6 7.6 0 0 1 263.39 116.5Z" fill="#93ee93"/>
<path d="M248.19 116.5A7.6 7.6 0 0 0 263.39 116.5Z" fill="#7cd87c"/>
<circle cx="255.79" cy="116.5" r="3.9" fill="#2c5e2c"/>
<path d="M248.19 139.8A7.6 7.6 0 0 1 263.39 139.8Z" fill="#93ee93"/>
<path d="M248.19 139.8A7.6 7.6 0 0 0 263.39 139.8Z" fill="#7cd87c"/>
<circle cx="255.79" cy="139.8" r="3.9" fill="#2c5e2c"/>
<path d="M248.19 163.1A7.6 7.6 0 0 1 263.39 163.1Z" fill="#93ee93"/>
<path d="M248.19 163.1A7.6 7.6 0 0 0 263.39 163.1Z" fill="#7cd87c"/>
<circle cx="255.79" cy="163.1" r="3.9" fill="#2c5e2c"/>
<path d="M248.19 186.4A7.6 7.6 0 0 1 263.39 186.4Z" fill="#93ee93"/>
<path d="M248.19 186.4A7.6 7.6 0 0 0 263.39 186.4Z" fill="#7cd87c"/>
<circle cx="255.79" cy="186.4" r="3.9" fill="#2c5e2c"/>
<path d="M248.19 209.7A7.6 7.6 0 0 1 263.39 209.7Z" fill="#93ee93"/>
<path d="M248.19 209.7A7.6 7.6 0 0 0 263.39 209.7Z" fill="#7cd87c"/>
<circle cx="255.79" cy="209.7" r="3.9" fill="#2c5e2c"/>
<path d="M248.19 279.7A7.6 7.6 0 0 1 263.39 279.7Z" fill="#e8e8e8"/>
<path d="M248.19 279.7A7.6 7.6 0 0 0 263.39 279.7Z" fill="#c4c4c4"/>
<circle cx="255.79" cy="279.7" r="3.9" fill="#363636"/>
<path d="M248.19 303A7.6 7.6 0 0 1 263.39 303Z" fill="#e8e8e8"/>
<path d="M248.19 303A7.6 7.6 0 0 0 263.39 303Z" fill="#c4c4c4"/>
<circle cx="255.79" cy="303" r="3.9" fill="#363636"/>
<path d="M248.19 326.3A7.6 7.6 0 0 1 263.39 326.3Z" fill="#e8e8e8"/>
<path d="M248.19 326.3A7.6 7.6 0 0 0 263.39 326.3Z" fill="#c4c4c4"/>
<circle cx="255.79" cy="326.3" r="3.9" fill="#363636"/>
<path d="M248.19 349.6A7.6 7.6 0 0 1 263.39 349.6Z" fill="#e8e8e8"/>
<path d="M248.19 349.6A7.6 7.6 0 0 0 263.39 349.6Z" fill="#c4c4c4"/>
<circle cx="255.79" cy="349.6" r="3.9" fill="#363636"/>
<path d="M248.19 372.9A7.6 7.6 0 0 1 263.39 372.9Z" fill="#e8e8e8"/>
<path d="M248.19 372.9A7.6 7.6 0 0 0 263.39 372.9Z" fill="#c4c4c4"/>
<circle cx="255.79" cy="372.9" r="3.9" fill="#363636"/>
<path d="M271.5 116.5A7.6 7.6 0 0 1 286.7 116.5Z" fill="#93ee93"/>
<path d="M271.5 116.5A7.6 7.6 0 0 0 286.7 116.5Z" fill="#7cd87c"/>
<circle cx="279.1" cy="116.5" r="3.9" fill="#2c5e2c"/>
<path d="M271.5 139.8A7.6 7.6 0 0 1 286.7 139.8Z" fill="#93ee93"/>
<path d="M271.5 139.8A7.6 7.6 0 0 0 286.7 139.8Z" fill="#7cd87c"/>
<circle cx="279.1" cy="139.8" r="3.9" fill="#2c5e2c"/>
<path d="M271.5 163.1A7.6 7.6 0 0 1 286.7 163.1Z" fill="#93ee93"/>
<path d="M271.5 163.1A7.6 7.6 0 0 0 286.7 163.1Z" fill="#7cd87c"/>
<circle cx="279.1" cy="163.1" r="3.9" fill="#2c5e2c"/>
<path d="M271.5 186.4A7.6 7.6 0 0 1 286.7 186.4Z" fill="#93ee93"/>
<path d="M271.5 186.4A7.6 7.6 0 0 0 286.7 186.4Z" fill="#7cd87c"/>
<circle cx="279.1" cy="186.4" r="3.9" fill="#2c5e2c"/>
<path d="M271.5 209.7A7.6 7.6 0 0 1 286.7 209.7Z" fill="#93ee93"/>
<path d="M271.5 209.7A7.6 7.6 0 0 0 286.7 209.7Z" fill="#7cd87c"/>
<circle cx="279.1" cy="209.7" r="3.9" fill="#2c5e2c"/>
<path d="M271.5 279.7A7.6 7.6 0 0 1 286.7 279.7Z" fill="#e8e8e8"/>
<path d="M271.5 279.7A7.6 7.6 0 0 0 286.7 279.7Z" fill="#c4c4c4"/>
<circle cx="279.1" cy="279.7" r="3.9" fill="#363636"/>
<path d="M271.5 303A7.6 7.6 0 0 1 286.7 303Z" fill="#e8e8e8"/>
<path d="M271.5 303A7.6 7.6 0 0 0 286.7 303Z" fill="#c4c4c4"/>
<circle cx="279.1" cy="303" r="3.9" fill="#363636"/>
<path d="M271.5 326.3A7.6 7.6 0 0 1 286.7 326.3Z" fill="#e8e8e8"/>
<path d="M271.5 326.3A7.6 7.6 0 0 0 286.7 326.3Z" fill="#c4c4c4"/>
<circle cx="279.1" cy="326.3" r="3.9" fill="#363636"/>
<path d="M271.5 349.6A7.6 7.6 0 0 1 286.7 349.6Z" fill="#e8e8e8"/>
<path d="M271.5 349.6A7.6 7.6 0 0 0 286.7 349.6Z" fill="#c4c4c4"/>
<circle cx="279.1" cy="349.6" r="3.9" fill="#363636"/>
<path d="M271.5 372.9A7.6 7.6 0 0 1 286.7 372.9Z" fill="#e8e8e8"/>
<path d="M271.5 372.9A7.6 7.6 0 0 0 286.7 372.9Z" fill="#c4c4c4"/>
<circle cx="279.1" cy="372.9" r="3.9" fill="#363636"/>
<path d="M294.81 116.5A7.6 7.6 0 0 1 310.01 116.5Z" fill="#93ee93"/>
<path d="M294.81 116.5A7.6 7.6 0 0 0 310.01 116.5Z" fill="#7cd87c"/>
<circle cx="302.41" cy="116.5" r="3.9" fill="#2c5e2c"/>
<path d="M294.81 139.8A7.6 7.6 0 0 1 310.01 139.8Z" fill="#93ee93"/>
<path d="M294.81 139.8A7.6 7.6 0 0 0 310.01 139.8Z" fill="#7cd87c"/>
<circle cx="302.41" cy="139.8" r="3.9" fill="#2c5e2c"/>
<path d="M294.81 163.1A7.6 7.6 0 0 1 310.01 163.1Z" fill="#93ee93"/>
<path d="M294.81 163.1A7.6 7.6 0 0 0 310.01 163.1Z" fill="#7cd87c"/>
<circle cx="302.41" cy="163.1" r="3.9" fill="#2c5e2c"/>
<path d="M294.81 186.4A7.6 7.6 0 0 1 310.01 186.4Z" fill="#93ee93"/>
<path d="M294.81 186.4A7.6 7.6 0 0 0 310.01 186.4Z" fill="#7cd87c"/>
<circle cx="302.41" cy="186.4" r="3.9" fill="#2c5e2c"/>
<path d="M294.81 209.7A7.6 7.6 0 0 1 310.01 209.7Z" fill="#93ee93"/>
<path d="M294.81 209.7A7.6 7.6 0 0 0 310.01 209.7Z" fill="#7cd87c"/>
<circle cx="302.41" cy="209.7" r="3.9" fill="#2c5e2c"/>
<path d="M294.81 279.7A7.6 7.6 0 0 1 310.01 279.7Z" fill="#e8e8e8"/>
<path d="M294.81 279.7A7.6 7.6 0 0 0 310.01 279.7Z" fill="#c4c4c4"/>
<circle cx="302.41" cy="279.7" r="3.9" fill="#363636"/>
<path d="M294.81 303A7.6 7.6 0 0 1 310.01 303Z" fill="#e8e8e8"/>
<path d="M294.81 303A7.6 7.6 0 0 0 310.01 303Z" fill="#c4c4c4"/>
<circle cx="302.41" cy="303" r="3.9" fill="#363636"/>
<path d="M294.81 326.3A7.6 7.6 0 0 1 310.01 326.3Z" fill="#e8e8e8"/>
<path d="M294.81 326.3A7.6 7.6 0 0 0 310.01 326.3Z" fill="#c4c4c4"/>
<circle cx="302.41" cy="326.3" r="3.9" fill="#363636"/>
<path d="M294.81 349.6A7.6 7.6 0 0 1 310.01 349.6Z" fill="#e8e8e8"/>
<path d="M294.81 349.6A7.6 7.6 0 0 0 310.01 349.6Z" fill="#c4c4c4"/>
<circle cx="302.41" cy="349.6" r="3.9" fill="#363636"/>
<path d="M294.81 372.9A7.6 7.6 0 0 1 310.01 372.9Z" fill="#e8e8e8"/>
<path d="M294.81 372.9A7.6 7.6 0 0 0 310.01 372.9Z" fill="#c4c4c4"/>
<circle cx="302.41" cy="372.9" r="3.9" fill="#363636"/>
<path d="M318.12 116.5A7.6 7.6 0 0 1 333.32 116.5Z" fill="#e8e8e8"/>
<path d="M318.12 116.5A7.6 7.6 0 0 0 333.32 116.5Z" fill="#c4c4c4"/>
<circle cx="325.72" cy="116.5" r="3.9" fill="#363636"/>
<path d="M318.12 139.8A7.6 7.6 0 0 1 333.32 139.8Z" fill="#e8e8e8"/>
<path d="M318.12 139.8A7.6 7.6 0 0 0 333.32 139.8Z" fill="#c4c4c4"/>
<circle cx="325.72" cy="139.8" r="3.9" fill="#363636"/>
<path d="M318.12 163.1A7.6 7.6 0 0 1 333.32 163.1Z" fill="#e8e8e8"/>
<path d="M318.12 163.1A7.6 7.6 0 0 0 333.32 163.1Z" fill="#c4c4c4"/>
<circle cx="325.72" cy="163.1" r="3.9" fill="#363636"/>
<path d="M318.12 186.4A7.6 7.6 0 0 1 333.32 186.4Z" fill="#e8e8e8"/>
<path d="M318.12 186.4A7.6 7.6 0 0 0 333.32 186.4Z" fill="#c4c4c4"/>
<circle cx="325.72" cy="186.4" r="3.9" fill="#363636"/>
<path d="M318.12 209.7A7.6 7.6 0 0 1 333.32 209.7Z" fill="#e8e8e8"/>
<path d="M318.12 209.7A7.6 7.6 0 0 0 333.32 209.7Z" fill="#c4c4c4"/>
<circle cx="325.72" cy="209.7" r="3.9" fill="#363636"/>
<path d="M318.12 279.7A7.6 7.6 0 0 1 333.32 279.7Z" fill="#e8e8e8"/>
<path d="M318.12 279.7A7.6 7.6 0 0 0 333.32 279.7Z" fill="#c4c4c4"/>
<circle cx="325.72" cy="279.7" r="3.9" fill="#363636"/>
<path d="M318.12 303A7.6 7.6 0 0 1 333.32 303Z" fill="#e8e8e8"/>
<path d="M318.12 303A7.6 7.6 0 0 0 333.32 303Z" fill="#c4c4c4"/>
<circle cx="325.72" cy="303" r="3.9" fill="#363636"/>
<path d="M318.12 326.3A7.6 7.6 0 0 1 333.32 326.3Z" fill="#e8e8e8"/>
<path d="M318.12 326.3A7.6 7.6 0 0 0 333.32 326.3Z" fill="#c4c4c4"/>
<circle cx="325.72" cy="326.3" r="3.9" fill="#363636"/>
<path d="M318.12 349.6A7.6 7.6 0 0 1 333.32 349.6Z" fill="#e8e8e8"/>
<path d="M318.12 349.6A7.6 7.6 0 0 0 333.32 349.6Z" fill="#c4c4c4"/>
<circle cx="325.72" cy="349.6" r="3.9" fill="#363636"/>
<path d="M318.12 372.9A7.6 7.6 0 0 1 333.32 372.9Z" fill="#e8e8e8"/>
<path d="M318.12 372.9A7.6 7.6 0 0 0 333.32 372.9Z" fill="#c4c4c4"/>
<circle cx="325.72" cy="372.9" r="3.9" fill="#363636"/>
<path d="M341.43 116.5A7.6 7.6 0 0 1 356.63 116.5Z" fill="#93ee93"/>
<path d="M341.43 116.5A7.6 7.6 0 0 0 356.63 116.5Z" fill="#7cd87c"/>
<circle cx="349.03" cy="116.5" r="3.9" fill="#2c5e2c"/>
<path d="M341.43 139.8A7.6 7.6 0 0 1 356.63 139.8Z" fill="#93ee93"/>
<path d="M341.43 139.8A7.6 7.6 0 0 0 356.63 139.8Z" fill="#7cd87c"/>
<circle cx="349.03" cy="139.8" r="3.9" fill="#2c5e2c"/>
<path d="M341.43 163.1A7.6 7.6 0 0 1 356.63 163.1Z" fill="#93ee93"/>
<path d="M341.43 163.1A7.6 7.6 0 0 0 356.63 163.1Z" fill="#7cd87c"/>
<circle cx="349.03" cy="163.1" r="3.9" fill="#2c5e2c"/>
<path d="M341.43 186.4A7.6 7.6 0 0 1 356.63 186.4Z" fill="#93ee93"/>
<path d="M341.43 186.4A7.6 7.6 0 0 0 356.63 186.4Z" fill="#7cd87c"/>
<circle cx="349.03" cy="186.4" r="3.9" fill="#2c5e2c"/>
<path d="M341.43 209.7A7.6 7.6 0 0 1 356.63 209.7Z" fill="#93ee93"/>
<path d="M341.43 209.7A7.6 7.6 0 0 0 356.63 209.7Z" fill="#7cd87c"/>
<circle cx="349.03" cy="209.7" r="3.9" fill="#2c5e2c"/>
<path d="M341.43 279.7A7.6 7.6 0 0 1 356.63 279.7Z" fill="#e8e8e8"/>
<path d="M341.43 279.7A7.6 7.6 0 0 0 356.63 279.7Z" fill="#c4c4c4"/>
<circle cx="349.03" cy="279.7" r="3.9" fill="#363636"/>
<path d="M341.43 303A7.6 7.6 0 0 1 356.63 303Z" fill="#e8e8e8"/>
<path d="M341.43 303A7.6 7.6 0 0 0 356.63 303Z" fill="#c4c4c4"/>
<circle cx="349.03" cy="303" r="3.9" fill="#363636"/>
<path d="M341.43 326.3A7.6 7.6 0 0 1 356.63 326.3Z" fill="#e8e8e8"/>
<path d="M341.43 326.3A7.6 7.6 0 0 0 356.63 326.3Z" fill="#c4c4c4"/>
<circle cx="349.03" cy="326.3" r="3.9" fill="#363636"/>
<path d="M341.43 349.6A7.6 7.6 0 0 1 356.63 349.6Z" fill="#e8e8e8"/>
<path d="M341.43 349.6A7.6 7.6 0 0 0 356.63 349.6Z" fill="#c4c4c4"/>
<circle cx="349.03" cy="349.6" r="3.9" fill="#363636"/>
<path d="M341.43 372.9A7.6 7.6 0 0 1 356.63 372.9Z" fill="#e8e8e8"/>
<path d="M341.43 372.9A7.6 7.6 0 0 0 356.63 372.9Z" fill="#c4c4c4"/>
<circle cx="349.03" cy="372.9" r="3.9" fill="#363636"/>
<path d="M364.74 116.5A7.6 7.6 0 0 1 379.94 116.5Z" fill="#93ee93"/>
<path d="M364.74 116.5A7.6 7.6 0 0 0 379.94 116.5Z" fill="#7cd87c"/>
<circle cx="372.34" cy="116.5" r="3.9" fill="#2c5e2c"/>
<path d="M364.74 139.8A7.6 7.6 0 0 1 379.94 139.8Z" fill="#93ee93"/>
<path d="M364.74 139.8A7.6 7.6 0 0 0 379.94 139.8Z" fill="#7cd87c"/>
<circle cx="372.34" cy="139.8" r="3.9" fill="#2c5e2c"/>
<path d="M364.74 163.1A7.6 7.6 0 0 1 379.94 163.1Z" fill="#93ee93"/>
<path d="M364.74 163.1A7.6 7.6 0 0 0 379.94 163.1Z" fill="#7cd87c"/>
<circle cx="372.34" cy="163.1" r="3.9" fill="#2c5e2c"/>
<path d="M364.74 186.4A7.6 7.6 0 0 1 379.94 186.4Z" fill="#93ee93"/>
<path d="M364.74 186.4A7.6 7.6 0 0 0 379.94 186.4Z" fill="#7cd87c"/>
<circle cx="372.34" cy="186.4" r="3.9" fill="#2c5e2c"/>
<path d="M364.74 209.7A7.6 7.6 0 0 1 379.94 209.7Z" fill="#93ee93"/>
<path d="M364.74 209.7A7.6 7.6 0 0 0 379.94 209.7Z" fill="#7cd87c"/>
<circle cx="372.34" cy="209.7" r="3.9" fill="#2c5e2c"/>
<path d="M364.74 279.7A7.6 7.6 0 0 1 379.94 279.7Z" fill="#e8e8e8"/>
<path d="M364.74 279.7A7.6 7.6 0 0 0 379.94 279.7Z" fill="#c4c4c4"/>
<circle cx="372.34" cy="279.7" r="3.9" fill="#363636"/>
<path d="M364.74 303A7.6 7.6 0 0 1 379.94 303Z" fill="#e8e8e8"/>
<path d="M364.74 303A7.6 7.6 0 0 0 379.94 303Z" fill="#c4c4c4"/>
<circle cx="372.34" cy="303" r="3.9" fill="#363636"/>
<path d="M364.74 326.3A7.6 7.6 0 0 1 379.94 326.3Z" fill="#e8e8e8"/>
<path d="M364.74 326.3A7.6 7.6 0 0 0 379.94 326.3Z" fill="#c4c4c4"/>
<circle cx="372.34" cy="326.3" r="3.9" fill="#363636"/>
<path d="M364.74 349.6A7.6 7.6 0 0 1 379.94 349.6Z" fill="#e8e8e8"/>
<path d="M364.74 349.6A7.6 7.6 0 0 0 379.94 349.6Z" fill="#c4c4c4"/>
<circle cx="372.34" cy="349.6" r="3.9" fill="#363636"/>
<path d="M364.74 372.9A7.6 7.6 0 0 1 379.94 372.9Z" fill="#e8e8e8"/>
<path d="M364.74 372.9A7.6 7.6 0 0 0 379.94 372.9Z" fill="#c4c4c4"/>
<circle cx="372.34" cy="372.9" r="3.9" fill="#363636"/>
<path d="M388.05 116.5A7.6 7.6 0 0 1 403.25 116.5Z" fill="#93ee93"/>
<path d="M388.05 116.5A7.6 7.6 0 0 0 403.25 116.5Z" fill="#7cd87c"/>
<circle cx="395.65" cy="116.5" r="3.9" fill="#2c5e2c"/>
<path d="M388.05 139.8A7.6 7.6 0 0 1 403.25 139.8Z" fill="#93ee93"/>
<path d="M388.05 139.8A7.6 7.6 0 0 0 403.25 139.8Z" fill="#7cd87c"/>
<circle cx="395.65" cy="139.8" r="3.9" fill="#2c5e2c"/>
<path d="M388.05 163.1A7.6 7.6 0 0 1 403.25 163.1Z" fill="#93ee93"/>
<path d="M388.05 163.1A7.6 7.6 0 0 0 403.25 163.1Z" fill="#7cd87c"/>
<circle cx="395.65" cy="163.1" r="3.9" fill="#2c5e2c"/>
<path d="M388.05 186.4A7.6 7.6 0 0 1 403.25 186.4Z" fill="#93ee93"/>
<path d="M388.05 186.4A7.6 7.6 0 0 0 403.25 186.4Z" fill="#7cd87c"/>
<circle cx="395.65" cy="186.4" r="3.9" fill="#2c5e2c"/>
<path d="M388.05 209.7A7.6 7.6 0 0 1 403.25 209.7Z" fill="#93ee93"/>
<path d="M388.05 209.7A7.6 7.6 0 0 0 403.25 209.7Z" fill="#7cd87c"/>
<circle cx="395.65" cy="209.7" r="3.9" fill="#2c5e2c"/>
<path d="M388.05 279.7A7.6 7.6 0 0 1 403.25 279.7Z" fill="#e8e8e8"/>
<path d="M388.05 279.7A7.6 7.6 0 0 0 403.25 279.7Z" fill="#c4c4c4"/>
<circle cx="395.65" cy="279.7" r="3.9" fill="#363636"/>
<path d="M388.05 303A7.6 7.6 0 0 1 403.25 303Z" fill="#e8e8e8"/>
<path d="M388.05 303A7.6 7.6 0 0 0 403.25 303Z" fill="#c4c4c4"/>
<circle cx="395.65" cy="303" r="3.9" fill="#363636"/>
<path d="M388.05 326.3A7.6 7.6 0 0 1 403.25 326.3Z" fill="#e8e8e8"/>
<path d="M388.05 326.3A7.6 7.6 0 0 0 403.25 326.3Z" fill="#c4c4c4"/>
<circle cx="395.65" cy="326.3" r="3.9" fill="#363636"/>
<path d="M388.05 349.6A7.6 7.6 0 0 1 403.25 349.6Z" fill="#e8e8e8"/>
<path d="M388.05 349.6A7.6 7.6 0 0 0 403.25 349.6Z" fill="#c4c4c4"/>
<circle cx="395.65" cy="349.6" r="3.9" fill="#363636"/>
<path d="M388.05 372.9A7.6 7.6 0 0 1 403.25 372.9Z" fill="#e8e8e8"/>
<path d="M388.05 372.9A7.6 7.6 0 0 0 403.25 372.9Z" fill="#c4c4c4"/>
<circle cx="395.65" cy="372.9" r="3.9" fill="#363636"/>
<path d="M411.36 116.5A7.6 7.6 0 0 1 426.56 116.5Z" fill="#93ee93"/>
<path d="M411.36 116.5A7.6 7.6 0 0 0 426.56 116.5Z" fill="#7cd87c"/>
<circle cx="418.96" cy="116.5" r="3.9" fill="#2c5e2c"/>
<path d="M411.36 139.8A7.6 7.6 0 0 1 426.56 139.8Z" fill="#93ee93"/>
<path d="M411.36 139.8A7.6 7.6 0 0 0 426.56 139.8Z" fill="#7cd87c"/>
<circle cx="418.96" cy="139.8" r="3.9" fill="#2c5e2c"/>
<path d="M411.36 163.1A7.6 7.6 0 0 1 426.56 163.1Z" fill="#93ee93"/>
<path d="M411.36 163.1A7.6 7.6 0 0 0 426.56 163.1Z" fill="#7cd87c"/>
<circle cx="418.96" cy="163.1" r="3.9" fill="#2c5e2c"/>
<path d="M411.36 186.4A7.6 7.6 0 0 1 426.56 186.4Z" fill="#93ee93"/>
<path d="M411.36 186.4A7.6 7.6 0 0 0 426.56 186.4Z" fill="#7cd87c"/>
<circle cx="418.96" cy="186.4" r="3.9" fill="#2c5e2c"/>
<path d="M411.36 209.7A7.6 7.6 0 0 1 426.56 209.7Z" fill="#93ee93"/>
<path d="M411.36 209.7A7.6 7.6 0 0 0 426.56 209.7Z" fill="#7cd87c"/>
<circle cx="418.96" cy="209.7" r="3.9" fill="#2c5e2c"/>
<path d="M411.36 279.7A7.6 7.6 0 0 1 426.56 279.7Z" fill="#e8e8e8"/>
<path d="M411.36 279.7A7.6 7.6 0 0 0 426.56 279.7Z" fill="#c4c4c4"/>
<circle cx="418.96" cy="279.7" r="3.9" fill="#363636"/>
<path d="M411.36 303A7.6 7.6 0 0 1 426.56 303Z" fill="#e8e8e8"/>
<path d="M411.36 303A7.6 7.6 0 0 0 426.56 303Z" fill="#c4c4c4"/>
<circle cx="418.96" cy="303" r="3.9" fill="#363636"/>
<path d="M411.36 326.3A7.6 7.6 0 0 1 426.56 326.3Z" fill="#e8e8e8"/>
<path d="M411.36 326.3A7.6 7.6 0 0 0 426.56 326.3Z" fill="#c4c4c4"/>
<circle cx="418.96" cy="326.3" r="3.9" fill="#363636"/>
<path d="M411.36 349.6A7.6 7.6 0 0 1 426.56 349.6Z" fill="#e8e8e8"/>
<path d="M411.36 349.6A7.6 7.6 0 0 0 426.56 349.6Z" fill="#c4c4c4"/>
<circle cx="418.96" cy="349.6" r="3.9" fill="#363636"/>
<path d="M411.36 372.9A7.6 7.6 0 0 1 426.56 372.9Z" fill="#e8e8e8"/>
<path d="M411.36 372.9A7.6 7.6 0 0 0 426.56 372.9Z" fill="#c4c4c4"/>
<circle cx="418.96" cy="372.9" r="3.9" fill="#363636"/>
<path d="M434.67 116.5A7.6 7.6 0 0 1 449.87 116.5Z" fill="#e8e8e8"/>
<path d="M434.67 116.5A7.6 7.6 0 0 0 449.87 116.5Z" fill="#c4c4c4"/>
<circle cx="442.27" cy="116.5" r="3.9" fill="#363636"/>
<path d="M434.67 139.8A7.6 7.6 0 0 1 449.87 139.8Z" fill="#e8e8e8"/>
<path d="M434.67 139.8A7.6 7.6 0 0 0 449.87 139.8Z" fill="#c4c4c4"/>
<circle cx="442.27" cy="139.8" r="3.9" fill="#363636"/>
<path d="M434.67 163.1A7.6 7.6 0 0 1 449.87 163.1Z" fill="#e8e8e8"/>
<path d="M434.67 163.1A7.6 7.6 0 0 0 449.87 163.1Z" fill="#c4c4c4"/>
<circle cx="442.27" cy="163.1" r="3.9" fill="#363636"/>
<path d="M434.67 186.4A7.6 7.6 0 0 1 449.87 186.4Z" fill="#e8e8e8"/>
<path d="M434.67 186.4A7.6 7.6 0 0 0 449.87 186.4Z" fill="#c4c4c4"/>
<circle cx="442.27" cy="186.4" r="3.9" fill="#363636"/>
<path d="M434.67 209.7A7.6 7.6 0 0 1 449.87 209.7Z" fill="#e8e8e8"/>
<path d="M434.67 209.7A7.6 7.6 0 0 0 449.87 209.7Z" fill="#c4c4c4"/>
<circle cx="442.27" cy="209.7" r="3.9" fill="#363636"/>
<path d="M434.67 279.7A7.6 7.6 0 0 1 449.87 279.7Z" fill="#e8e8e8"/>
<path d="M434.67 279.7A7.6 7.6 0 0 0 449.87 279.7Z" fill="#c4c4c4"/>
<circle cx="442.27" cy="279.7" r="3.9" fill="#363636"/>
<path d="M434.67 303A7.6 7.6 0 0 1 449.87 303Z" fill="#e8e8e8"/>
<path d="M434.67 303A7.6 7.6 0 0 0 449.87 303Z" fill="#c4c4c4"/>
<circle cx="442.27" cy="303" r="3.9" fill="#363636"/>
<path d="M434.67 326.3A7.6 7.6 0 0 1 449.87 326.3Z" fill="#e8e8e8"/>
<path d="M434.67 326.3A7.6 7.6 0 0 0 449.87 326.3Z" fill="#c4c4c4"/>
<circle cx="442.27" cy="326.3" r="3.9" fill="#363636"/>
<path d="M434.67 349.6A7.6 7.6 0 0 1 449.87 349.6Z" fill="#e8e8e8"/>
<path d="M434.67 349.6A7.6 7.6 0 0 0 449.87 349.6Z" fill="#c4c4c4"/>
<circle cx="442.27" cy="349.6" r="3.9" fill="#363636"/>
<path d="M434.67 372.9A7.6 7.6 0 0 1 449.87 372.9Z" fill="#e8e8e8"/>
<path d="M434.67 372.9A7.6 7.6 0 0 0 449.87 372.9Z" fill="#c4c4c4"/>
<circle cx="442.27" cy="372.9" r="3.9" fill="#363636"/>
<path d="M457.98 116.5A7.6 7.6 0 0 1 473.18 116.5Z" fill="#e8e8e8"/>
<path d="M457.98 116.5A7.6 7.6 0 0 0 473.18 116.5Z" fill="#c4c4c4"/>
<circle cx="465.58" cy="116.5" r="3.9" fill="#363636"/>
<path d="M457.98 139.8A7.6 7.6 0 0 1 473.18 139.8Z" fill="#e8e8e8"/>
<path d="M457.98 139.8A7.6 7.6 0 0 0 473.18 139.8Z" fill="#c4c4c4"/>
<circle cx="465.58" cy="139.8" r="3.9" fill="#363636"/>
<path d="M457.98 163.1A7.6 7.6 0 0 1 473.18 163.1Z" fill="#e8e8e8"/>
<path d="M457.98 163.1A7.6 7.6 0 0 0 473.18 163.1Z" fill="#c4c4c4"/>
<circle cx="465.58" cy="163.1" r="3.9" fill="#363636"/>
<path d="M457.98 186.4A7.6 7.6 0 0 1 473.18 186.4Z" fill="#e8e8e8"/>
<path d="M457.98 186.4A7.6 7.6 0 0 0 473.18 186.4Z" fill="#c4c4c4"/>
<circle cx="465.58" cy="186.4" r="3.9" fill="#363636"/>
<path d="M457.98 209.7A7.6 7.6 0 0 1 473.18 209.7Z" fill="#e8e8e8"/>
<path d="M457.98 209.7A7.6 7.6 0 0 0 473.18 209.7Z" fill="#c4c4c4"/>
<circle cx="465.58" cy="209.7" r="3.9" fill="#363636"/>
<path d="M457.98 279.7A7.6 7.6 0 0 1 473.18 279.7Z" fill="#e8e8e8"/>
<path d="M457.98 279.7A7.6 7.6 0 0 0 473.18 279.7Z" fill="#c4c4c4"/>
<circle cx="465.58" cy="279.7" r="3.9" fill="#363636"/>
<path d="M457.98 303A7.6 7.6 0 0 1 473.18 303Z" fill="#e8e8e8"/>
<path d="M457.98 303A7.6 7.6 0 0 0 473.18 303Z" fill="#c4c4c4"/>
<circle cx="465.58" cy="303" r="3.9" fill="#363636"/>
<path d="M457.98 326.3A7.6 7.6 0 0 1 473.18 326.3Z" fill="#e8e8e8"/>
<path d="M457.98 326.3A7.6 7.6 0 0 0 473.18 326.3Z" fill="#c4c4c4"/>
<circle cx="465.58" cy="326.3" r="3.9" fill="#363636"/>
<path d="M457.98 349.6A7.6 7.6 0 0 1 473.18 349.6Z" fill="#e8e8e8"/>
<path d="M457.98 349.6A7.6 7.6 0 0 0 473.18 349.6Z" fill="#c4c4c4"/>
<circle cx="465.58" cy="349.6" r="3.9" fill="#363636"/>
<path d="M457.98 372.9A7.6 7.6 0 0 1 473.18 372.9Z" fill="#e8e8e8"/>
<path d="M457.98 372.9A7.6 7.6 0 0 0 473.18 372.9Z" fill="#c4c4c4"/>
<circle cx="465.58" cy="372.9" r="3.9" fill="#363636"/>
<path d="M481.29 116.5A7.6 7.6 0 0 1 496.49 116.5Z" fill="#e8e8e8"/>
<path d="M481.29 116.5A7.6 7.6 0 0 0 496.49 116.5Z" fill="#c4c4c4"/>
<circle cx="488.89" cy="116.5" r="3.9" fill="#363636"/>
<path d="M481.29 139.8A7.6 7.6 0 0 1 496.49 139.8Z" fill="#e8e8e8"/>
<path d="M481.29 139.8A7.6 7.6 0 0 0 496.49 139.8Z" fill="#c4c4c4"/>
<circle cx="488.89" cy="139.8" r="3.9" fill="#363636"/>
<path d="M481.29 163.1A7.6 7.6 0 0 1 496.49 163.1Z" fill="#e8e8e8"/>
<path d="M481.29 163.1A7.6 7.6 0 0 0 496.49 163.1Z" fill="#c4c4c4"/>
<circle cx="488.89" cy="163.1" r="3.9" fill="#363636"/>
<path d="M481.29 186.4A7.6 7.6 0 0 1 496.49 186.4Z" fill="#e8e8e8"/>
<path d="M481.29 186.4A7.6 7.6 0 0 0 496.49 186.4Z" fill="#c4c4c4"/>
<circle cx="488.89" cy="186.4" r="3.9" fill="#363636"/>
<path d="M481.29 209.7A7.6 7.6 0 0 1 496.49 209.7Z" fill="#e8e8e8"/>
<path d="M481.29 209.7A7.6 7.6 0 0 0 496.49 209.7Z" fill="#c4c4c4"/>
<circle cx="488.89" cy="209.7" r="3.9" fill="#363636"/>
<path d="M481.29 279.7A7.6 7.6 0 0 1 496.49 279.7Z" fill="#e8e8e8"/>
<path d="M481.29 279.7A7.6 7.6 0 0 0 496.49 279.7Z" fill="#c4c4c4"/>
<circle cx="488.89" cy="279.7" r="3.9" fill="#363636"/>
<path d="M481.29 303A7.6 7.6 0 0 1 496.49 303Z" fill="#e8e8e8"/>
<path d="M481.29 303A7.6 7.6 0 0 0 496.49 303Z" fill="#c4c4c4"/>
<circle cx="488.89" cy="303" r="3.9" fill="#363636"/>
<path d="M481.29 326.3A7.6 7.6 0 0 1 496.49 326.3Z" fill="#e8e8e8"/>
<path d="M481.29 326.3A7.6 7.6 0 0 0 496.49 326.3Z" fill="#c4c4c4"/>
<circle cx="488.89" cy="326.3" r="3.9" fill="#363636"/>
<path d="M481.29 349.6A7.6 7.6 0 0 1 496.49 349.6Z" fill="#e8e8e8"/>
<path d="M481.29 349.6A7.6 7.6 0 0 0 496.49 349.6Z" fill="#c4c4c4"/>
<circle cx="488.89" cy="349.6" r="3.9" fill="#363636"/>
<path d="M481.29 372.9A7.6 7.6 0 0 1 496.49 372.9Z" fill="#e8e8e8"/>
<path d="M481.29 372.9A7.6 7.6 0 0 0 496.49 372.9Z" fill="#c4c4c4"/>
<circle cx="488.89" cy="372.9" r="3.9" fill="#363636"/>
<path d="M504.6 116.5A7.6 7.6 0 0 1 519.8 116.5Z" fill="#e8e8e8"/>
<path d="M504.6 116.5A7.6 7.6 0 0 0 519.8 116.5Z" fill="#c4c4c4"/>
<circle cx="512.2" cy="116.5" r="3.9" fill="#363636"/>
<path d="M504.6 139.8A7.6 7.6 0 0 1 519.8 139.8Z" fill="#e8e8e8"/>
<path d="M504.6 139.8A7.6 7.6 0 0 0 519.8 139.8Z" fill="#c4c4c4"/>
<circle cx="512.2" cy="139.8" r="3.9" fill="#363636"/>
<path d="M504.6 163.1A7.6 7.6 0 0 1 519.8 163.1Z" fill="#e8e8e8"/>
<path d="M504.6 163.1A7.6 7.6 0 0 0 519.8 163.1Z" fill="#c4c4c4"/>
<circle cx="512.2" cy="163.1" r="3.9" fill="#363636"/>
<path d="M504.6 186.4A7.6 7.6 0 0 1 519.8 186.4Z" fill="#e8e8e8"/>
<path d="M504.6 186.4A7.6 7.6 0 0 0 519.8 186.4Z" fill="#c4c4c4"/>
<circle cx="512.2" cy="186.4" r="3.9" fill="#363636"/>
<path d="M504.6 209.7A7.6 7.6 0 0 1 519.8 209.7Z" fill="#e8e8e8"/>
<path d="M504.6 209.7A7.6 7.6 0 0 0 519.8 209.7Z" fill="#c4c4c4"/>
<circle cx="512.2" cy="209.7" r="3.9" fill="#363636"/>
<path d="M504.6 279.7A7.6 7.6 0 0 1 519.8 279.7Z" fill="#e8e8e8"/>
<path d="M504.6 279.7A7.6 7.6 0 0 0 519.8 279.7Z" fill="#c4c4c4"/>
<circle cx="512.2" cy="279.7" r="3.9" fill="#363636"/>
<path d="M504.6 303A7.6 7.6 0 0 1 519.8 303Z" fill="#e8e8e8"/>
<path d="M504.6 303A7.6 7.6 0 0 0 519.8 303Z" fill="#c4c4c4"/>
<circle cx="512.2" cy="303" r="3.9" fill="#363636"/>
<path d="M504.6 326.3A7.6 7.6 0 0 1 519.8 326.3Z" fill="#e8e8e8"/>
<path d="M504.6 326.3A7.6 7.6 0 0 0 519.8 326.3Z" fill="#c4c4c4"/>
<circle cx="512.2" cy="326.3" r="3.9" fill="#363636"/>
<path d="M504.6 349.6A7.6 7.6 0 0 1 519.8 349.6Z" fill="#e8e8e8"/>
<path d="M504.6 349.6A7.6 7.6 0 0 0 519.8 349.6Z" fill="#c4c4c4"/>
<circle cx="512.2" cy="349.6" r="3.9" fill="#363636"/>
<path d="M504.6 372.9A7.6 7.6 0 0 1 519.8 372.9Z" fill="#e8e8e8"/>
<path d="M504.6 372.9A7.6 7.6 0 0 0 519.8 372.9Z" fill="#c4c4c4"/>
<circle cx="512.2" cy="372.9" r="3.9" fill="#363636"/>
<path d="M527.91 116.5A7.6 7.6 0 0 1 543.11 116.5Z" fill="#e8e8e8"/>
<path d="M527.91 116.5A7.6 7.6 0 0 0 543.11 116.5Z" fill="#c4c4c4"/>
<circle cx="535.51" cy="116.5" r="3.9" fill="#363636"/>
<path d="M527.91 139.8A7.6 7.6 0 0 1 543.11 139.8Z" fill="#e8e8e8"/>
<path d="M527.91 139.8A7.6 7.6 0 0 0 543.11 139.8Z" fill="#c4c4c4"/>
<circle cx="535.51" cy="139.8" r="3.9" fill="#363636"/>
<path d="M527.91 163.1A7.6 7.6 0 0 1 543.11 163.1Z" fill="#e8e8e8"/>
<path d="M527.91 163.1A7.6 7.6 0 0 0 543.11 163.1Z" fill="#c4c4c4"/>
<circle cx="535.51" cy="163.1" r="3.9" fill="#363636"/>
<path d="M527.91 186.4A7.6 7.6 0 0 1 543.11 186.4Z" fill="#e8e8e8"/>
<path d="M527.91 186.4A7.6 7.6 0 0 0 543.11 186.4Z" fill="#c4c4c4"/>
<circle cx="535.51" cy="186.4" r="3.9" fill="#363636"/>
<path d="M527.91 209.7A7.6 7.6 0 0 1 543.11 209.7Z" fill="#e8e8e8"/>
<path d="M527.91 209.7A7.6 7.6 0 0 0 543.11 209.7Z" fill="#c4c4c4"/>
<circle cx="535.51" cy="209.7" r="3.9" fill="#363636"/>
<path d="M527.91 279.7A7.6 7.6 0 0 1 543.11 279.7Z" fill="#e8e8e8"/>
<path d="M527.91 279.7A7.6 7.6 0 0 0 543.11 279.7Z" fill="#c4c4c4"/>
<circle cx="535.51" cy="279.7" r="3.9" fill="#363636"/>
<path d="M527.91 303A7.6 7.6 0 0 1 543.11 303Z" fill="#e8e8e8"/>
<path d="M527.91 303A7.6 7.6 0 0 0 543.11 303Z" fill="#c4c4c4"/>
<circle cx="535.51" cy="303" r="3.9" fill="#363636"/>
<path d="M527.91 326.3A7.6 7.6 0 0 1 543.11 326.3Z" fill="#e8e8e8"/>
<path d="M527.91 326.3A7.6 7.6 0 0 0 543.11 326.3Z" fill="#c4c4c4"/>
<circle cx="535.51" cy="326.3" r="3.9" fill="#363636"/>
<path d="M527.91 349.6A7.6 7.6 0 0 1 543.11 349.6Z" fill="#e8e8e8"/>
<path d="M527.91 349.6A7.6 7.6 0 0 0 543.11 349.6Z" fill="#c4c4c4"/>
<circle cx="535.51" cy="349.6" r="3.9" fill="#363636"/>
<path d="M527.91 372.9A7.6 7.6 0 0 1 543.11 372.9Z" fill="#e8e8e8"/>
<path d="M527.91 372.9A7.6 7.6 0 0 0 543.11 372.9Z" fill="#c4c4c4"/>
<circle cx="535.51" cy="372.9" r="3.9" fill="#363636"/>
<path d="M551.22 116.5A7.6 7.6 0 0 1 566.42 116.5Z" fill="#e8e8e8"/>
<path d="M551.22 116.5A7.6 7.6 0 0 0 566.42 116.5Z" fill="#c4c4c4"/>
<circle cx="558.82" cy="116.5" r="3.9" fill="#363636"/>
<path d="M551.22 139.8A7.6 7.6 0 0 1 566.42 139.8Z" fill="#e8e8e8"/>
<path d="M551.22 139.8A7.6 7.6 0 0 0 566.42 139.8Z" fill="#c4c4c4"/>
<circle cx="558.82" cy="139.8" r="3.9" fill="#363636"/>
<path d="M551.22 163.1A7.6 7.6 0 0 1 566.42 163.1Z" fill="#e8e8e8"/>
<path d="M551.22 163.1A7.6 7.6 0 0 0 566.42 163.1Z" fill="#c4c4c4"/>
<circle cx="558.82" cy="163.1" r="3.9" fill="#363636"/>
<path d="M551.22 186.4A7.6 7.6 0 0 1 566.42 186.4Z" fill="#e8e8e8"/>
<path d="M551.22 186.4A7.6 7.6 0 0 0 566.42 186.4Z" fill="#c4c4c4"/>
<circle cx="558.82" cy="186.4" r="3.9" fill="#363636"/>
<path d="M551.22 209.7A7.6 7.6 0 0 1 566.42 209.7Z" fill="#e8e8e8"/>
<path d="M551.22 209.7A7.6 7.6 0 0 0 566.42 209.7Z" fill="#c4c4c4"/>
<circle cx="558.82" cy="209.7" r="3.9" fill="#363636"/>
<path d="M551.22 279.7A7.6 7.6 0 0 1 566.42 279.7Z" fill="#e8e8e8"/>
<path d="M551.22 279.7A7.6 7.6 0 0 0 566.42 279.7Z" fill="#c4c4c4"/>
<circle cx="558.82" cy="279.7" r="3.9" fill="#363636"/>
<path d="M551.22 303A7.6 7.6 0 0 1 566.42 303Z" fill="#e8e8e8"/>
<path d="M551.22 303A7.6 7.6 0 0 0 566.42 303Z" fill="#c4c4c4"/>
<circle cx="558.82" cy="303" r="3.9" fill="#363636"/>
<path d="M551.22 326.3A7.6 7.6 0 0 1 566.42 326.3Z" fill="#e8e8e8"/>
<path d="M551.22 326.3A7.6 7.6 0 0 0 566.42 326.3Z" fill="#c4c4c4"/>
<circle cx="558.82" cy="326.3" r="3.9" fill="#363636"/>
<path d="M551.22 349.6A7.6 7.6 0 0 1 566.42 349.6Z" fill="#e8e8e8"/>
<path d="M551.22 349.6A7.6 7.6 0 0 0 566.42 349.6Z" fill="#c4c4c4"/>
<circle cx="558.82" cy="349.6" r="3.9" fill="#363636"/>
<path d="M551.22 372.9A7.6 7.6 0 0 1 566.42 372.9Z" fill="#e8e8e8"/>
<path d="M551.22 372.9A7.6 7.6 0 0 0 566.42 372.9Z" fill="#c4c4c4"/>
<circle cx="558.82" cy="372.9" r="3.9" fill="#363636"/>
<path d="M574.53 116.5A7.6 7.6 0 0 1 589.73 116.5Z" fill="#93ee93"/>
<path d="M574.53 116.5A7.6 7.6 0 0 0 589.73 116.5Z" fill="#7cd87c"/>
<circle cx="582.13" cy="116.5" r="3.9" fill="#2c5e2c"/>
<path d="M574.53 139.8A7.6 7.6 0 0 1 589.73 139.8Z" fill="#93ee93"/>
<path d="M574.53 139.8A7.6 7.6 0 0 0 589.73 139.8Z" fill="#7cd87c"/>
<circle cx="582.13" cy="139.8" r="3.9" fill="#2c5e2c"/>
<path d="M574.53 163.1A7.6 7.6 0 0 1 589.73 163.1Z" fill="#93ee93"/>
<path d="M574.53 163.1A7.6 7.6 0 0 0 589.73 163.1Z" fill="#7cd87c"/>
<circle cx="582.13" cy="163.1" r="3.9" fill="#2c5e2c"/>
<path d="M574.53 186.4A7.6 7.6 0 0 1 589.73 186.4Z" fill="#93ee93"/>
<path d="M574.53 186.4A7.6 7.6 0 0 0 589.73 186.4Z" fill="#7cd87c"/>
<circle cx="582.13" cy="186.4" r="3.9" fill="#2c5e2c"/>
<path d="M574.53 209.7A7.6 7.6 0 0 1 589.73 209.7Z" fill="#93ee93"/>
<path d="M574.53 209.7A7.6 7.6 0 0 0 589.73 209.7Z" fill="#7cd87c"/>
<circle cx="582.13" cy="209.7" r="3.9" fill="#2c5e2c"/>
<path d="M574.53 279.7A7.6 7.6 0 0 1 589.73 279.7Z" fill="#93ee93"/>
<path d="M574.53 279.7A7.6 7.6 0 0 0 589.73 279.7Z" fill="#7cd87c"/>
<circle cx="582.13" cy="279.7" r="3.9" fill="#2c5e2c"/>
<path d="M574.53 303A7.6 7.6 0 0 1 589.73 303Z" fill="#93ee93"/>
<path d="M574.53 303A7.6 7.6 0 0 0 589.73 303Z" fill="#7cd87c"/>
<circle cx="582.13" cy="303" r="3.9" fill="#2c5e2c"/>
<path d="M574.53 326.3A7.6 7.6 0 0 1 589.73 326.3Z" fill="#93ee93"/>
<path d="M574.53 326.3A7.6 7.6 0 0 0 589.73 326.3Z" fill="#7cd87c"/>
<circle cx="582.13" cy="326.3" r="3.9" fill="#2c5e2c"/>
<path d="M574.53 349.6A7.6 7.6 0 0 1 589.73 349.6Z" fill="#93ee93"/>
<path d="M574.53 349.6A7.6 7.6 0 0 0 589.73 349.6Z" fill="#7cd87c"/>
<circle cx="582.13" cy="349.6" r="3.9" fill="#2c5e2c"/>
<path d="M574.53 372.9A7.6 7.6 0 0 1 589.73 372.9Z" fill="#93ee93"/>
<path d="M574.53 372.9A7.6 7.6 0 0 0 589.73 372.9Z" fill="#7cd87c"/>
<circle cx="582.13" cy="372.9" r="3.9" fill="#2c5e2c"/>
<path d="M597.84 116.5A7.6 7.6 0 0 1 613.04 116.5Z" fill="#93ee93"/>
<path d="M597.84 116.5A7.6 7.6 0 0 0 613.04 116.5Z" fill="#7cd87c"/>
<circle cx="605.44" cy="116.5" r="3.9" fill="#2c5e2c"/>
<path d="M597.84 139.8A7.6 7.6 0 0 1 613.04 139.8Z" fill="#93ee93"/>
<path d="M597.84 139.8A7.6 7.6 0 0 0 613.04 139.8Z" fill="#7cd87c"/>
<circle cx="605.44" cy="139.8" r="3.9" fill="#2c5e2c"/>
<path d="M597.84 163.1A7.6 7.6 0 0 1 613.04 163.1Z" fill="#93ee93"/>
<path d="M597.84 163.1A7.6 7.6 0 0 0 613.04 163.1Z" fill="#7cd87c"/>
<circle cx="605.44" cy="163.1" r="3.9" fill="#2c5e2c"/>
<path d="M597.84 186.4A7.6 7.6 0 0 1 613.04 186.4Z" fill="#93ee93"/>
<path d="M597.84 186.4A7.6 7.6 0 0 0 613.04 186.4Z" fill="#7cd87c"/>
<circle cx="605.44" cy="186.4" r="3.9" fill="#2c5e2c"/>
<path d="M597.84 209.7A7.6 7.6 0 0 1 613.04 209.7Z" fill="#93ee93"/>
<path d="M597.84 209.7A7.6 7.6 0 0 0 613.04 209.7Z" fill="#7cd87c"/>
<circle cx="605.44" cy="209.7" r="3.9" fill="#2c5e2c"/>
<path d="M597.84 279.7A7.6 7.6 0 0 1 613.04 279.7Z" fill="#93ee93"/>
<path d="M597.84 279.7A7.6 7.6 0 0 0 613.04 279.7Z" fill="#7cd87c"/>
<circle cx="605.44" cy="279.7" r="3.9" fill="#2c5e2c"/>
<path d="M597.84 303A7.6 7.6 0 0 1 613.04 303Z" fill="#93ee93"/>
<path d="M597.84 303A7.6 7.6 0 0 0 613.04 303Z" fill="#7cd87c"/>
<circle cx="605.44" cy="303" r="3.9" fill="#2c5e2c"/>
<path d="M597.84 326.3A7.6 7.6 0 0 1 613.04 326.3Z" fill="#93ee93"/>
<path d="M597.84 326.3A7.6 7.6 0 0 0 613.04 326.3Z" fill="#7cd87c"/>
<circle cx="605.44" cy="326.3" r="3.9" fill="#2c5e2c"/>
<path d="M597.84 349.6A7.6 7.6 0 0 1 613.04 349.6Z" fill="#93ee93"/>
<path d="M597.84 349.6A7.6 7.6 0 0 0 613.04 349.6Z" fill="#7cd87c"/>
<circle cx="605.44" cy="349.6" r="3.9" fill="#2c5e2c"/>
<path d="M597.84 372.9A7.6 7.6 0 0 1 613.04 372.9Z" fill="#93ee93"/>
<path d="M597.84 372.9A7.6 7.6 0 0 0 613.04 372.9Z" fill="#7cd87c"/>
<circle cx="605.44" cy="372.9" r="3.9" fill="#2c5e2c"/>
<path d="M621.15 116.5A7.6 7.6 0 0 1 636.35 116.5Z" fill="#93ee93"/>
<path d="M621.15 116.5A7.6 7.6 0 0 0 636.35 116.5Z" fill="#7cd87c"/>
<circle cx="628.75" cy="116.5" r="3.9" fill="#2c5e2c"/>
<path d="M621.15 139.8A7.6 7.6 0 0 1 636.35 139.8Z" fill="#93ee93"/>
<path d="M621.15 139.8A7.6 7.6 0 0 0 636.35 139.8Z" fill="#7cd87c"/>
<circle cx="628.75" cy="139.8" r="3.9" fill="#2c5e2c"/>
<path d="M621.15 163.1A7.6 7.6 0 0 1 636.35 163.1Z" fill="#93ee93"/>
<path d="M621.15 163.1A7.6 7.6 0 0 0 636.35 163.1Z" fill="#7cd87c"/>
<circle cx="628.75" cy="163.1" r="3.9" fill="#2c5e2c"/>
<path d="M621.15 186.4A7.6 7.6 0 0 1 636.35 186.4Z" fill="#93ee93"/>
<path d="M621.15 186.4A7.6 7.6 0 0 0 636.35 186.4Z" fill="#7cd87c"/>
<circle cx="628.75" cy="186.4" r="3.9" fill="#2c5e2c"/>
<path d="M621.15 209.7A7.6 7.6 0 0 1 636.35 209.7Z" fill="#93ee93"/>
<path d="M621.15 209.7A7.6 7.6 0 0 0 636.35 209.7Z" fill="#7cd87c"/>
<circle cx="628.75" cy="209.7" r="3.9" fill="#2c5e2c"/>
<path d="M621.15 279.7A7.6 7.6 0 0 1 636.35 279.7Z" fill="#93ee93"/>
<path d="M621.15 279.7A7.6 7.6 0 0 0 636.35 279.7Z" fill="#7cd87c"/>
<circle cx="628.75" cy="279.7" r="3.9" fill="#2c5e2c"/>
<path d="M621.15 303A7.6 7.6 0 0 1 636.35 303Z" fill="#93ee93"/>
<path d="M621.15 303A7.6 7.6 0 0 0 636.35 303Z" fill="#7cd87c"/>
<circle cx="628.75" cy="303" r="3.9" fill="#2c5e2c"/>
<path d="M621.15 326.3A7.6 7.6 0 0 1 636.35 326.3Z" fill="#93ee93"/>
<path d="M621.15 326.3A7.6 7.6 0 0 0 636.35 326.3Z" fill="#7cd87c"/>
<circle cx="628.75" cy="326.3" r="3.9" fill="#2c5e2c"/>
<path d="M621.15 349.6A7.6 7.6 0 0 1 636.35 349.6Z" fill="#93ee93"/>
<path d="M621.15 349.6A7.6 7.6 0 0 0 636.35 349.6Z" fill="#7cd87c"/>
<circle cx="628.75" cy="349.6" r="3.9" fill="#2c5e2c"/>
<path d="M621.15 372.9A7.6 7.6 0 0 1 636.35 372.9Z" fill="#93ee93"/>
<path d="M621.15 372.9A7.6 7.6 0 0 0 636.35 372.9Z" fill="#7cd87c"/>
<circle cx="628.75" cy="372.9" r="3.9" fill="#2c5e2c"/>
<path d="M644.46 116.5A7.6 7.6 0 0 1 659.66 116.5Z" fill="#93ee93"/>
<path d="M644.46 116.5A7.6 7.6 0 0 0 659.66 116.5Z" fill="#7cd87c"/>
<circle cx="652.06" cy="116.5" r="3.9" fill="#2c5e2c"/>
<path d="M644.46 139.8A7.6 7.6 0 0 1 659.66 139.8Z" fill="#93ee93"/>
<path d="M644.46 139.8A7.6 7.6 0 0 0 659.66 139.8Z" fill="#7cd87c"/>
<circle cx="652.06" cy="139.8" r="3.9" fill="#2c5e2c"/>
<path d="M644.46 163.1A7.6 7.6 0 0 1 659.66 163.1Z" fill="#93ee93"/>
<path d="M644.46 163.1A7.6 7.6 0 0 0 659.66 163.1Z" fill="#7cd87c"/>
<circle cx="652.06" cy="163.1" r="3.9" fill="#2c5e2c"/>
<path d="M644.46 186.4A7.6 7.6 0 0 1 659.66 186.4Z" fill="#93ee93"/>
<path d="M644.46 186.4A7.6 7.6 0 0 0 659.66 186.4Z" fill="#7cd87c"/>
<circle cx="652.06" cy="186.4" r="3.9" fill="#2c5e2c"/>
<path d="M644.46 209.7A7.6 7.6 0 0 1 659.66 209.7Z" fill="#93ee93"/>
<path d="M644.46 209.7A7.6 7.6 0 0 0 659.66 209.7Z" fill="#7cd87c"/>
<circle cx="652.06" cy="209.7" r="3.9" fill="#2c5e2c"/>
<path d="M644.46 279.7A7.6 7.6 0 0 1 659.66 279.7Z" fill="#93ee93"/>
<path d="M644.46 279.7A7.6 7.6 0 0 0 659.66 279.7Z" fill="#7cd87c"/>
<circle cx="652.06" cy="279.7" r="3.9" fill="#2c5e2c"/>
<path d="M644.46 303A7.6 7.6 0 0 1 659.66 303Z" fill="#93ee93"/>
<path d="M644.46 303A7.6 7.6 0 0 0 659.66 303Z" fill="#7cd87c"/>
<circle cx="652.06" cy="303" r="3.9" fill="#2c5e2c"/>
<path d="M644.46 326.3A7.6 7.6 0 0 1 659.66 326.3Z" fill="#93ee93"/>
<path d="M644.46 326.3A7.6 7.6 0 0 0 659.66 326.3Z" fill="#7cd87c"/>
<circle cx="652.06" cy="326.3" r="3.9" fill="#2c5e2c"/>
<path d="M644.46 349.6A7.6 7.6 0 0 1 659.66 349.6Z" fill="#93ee93"/>
<path d="M644.46 349.6A7.6 7.6 0 0 0 659.66 349.6Z" fill="#7cd87c"/>
<circle cx="652.06" cy="349.6" r="3.9" fill="#2c5e2c"/>
<path d="M644.46 372.9A7.6 7.6 0 0 1 659.66 372.9Z" fill="#93ee93"/>
<path d="M644.46 372.9A7.6 7.6 0 0 0 659.66 372.9Z" fill="#7cd87c"/>
<circle cx="652.06" cy="372.9" r="3.9" fill="#2c5e2c"/>
<path d="M667.77 116.5A7.6 7.6 0 0 1 682.97 116.5Z" fill="#93ee93"/>
<path d="M667.77 116.5A7.6 7.6 0 0 0 682.97 116.5Z" fill="#7cd87c"/>
<circle cx="675.37" cy="116.5" r="3.9" fill="#2c5e2c"/>
<path d="M667.77 139.8A7.6 7.6 0 0 1 682.97 139.8Z" fill="#93ee93"/>
<path d="M667.77 139.8A7.6 7.6 0 0 0 682.97 139.8Z" fill="#7cd87c"/>
<circle cx="675.37" cy="139.8" r="3.9" fill="#2c5e2c"/>
<path d="M667.77 163.1A7.6 7.6 0 0 1 682.97 163.1Z" fill="#93ee93"/>
<path d="M667.77 163.1A7.6 7.6 0 0 0 682.97 163.1Z" fill="#7cd87c"/>
<circle cx="675.37" cy="163.1" r="3.9" fill="#2c5e2c"/>
<path d="M667.77 186.4A7.6 7.6 0 0 1 682.97 186.4Z" fill="#93ee93"/>
<path d="M667.77 186.4A7.6 7.6 0 0 0 682.97 186.4Z" fill="#7cd87c"/>
<circle cx="675.37" cy="186.4" r="3.9" fill="#2c5e2c"/>
<path d="M667.77 209.7A7.6 7.6 0 0 1 682.97 209.7Z" fill="#93ee93"/>
<path d="M667.77 209.7A7.6 7.6 0 0 0 682.97 209.7Z" fill="#7cd87c"/>
<circle cx="675.37" cy="209.7" r="3.9" fill="#2c5e2c"/>
<path d="M667.77 279.7A7.6 7.6 0 0 1 682.97 279.7Z" fill="#93ee93"/>
<path d="M667.77 279.7A7.6 7.6 0 0 0 682.97 279.7Z" fill="#7cd87c"/>
<circle cx="675.37" cy="279.7" r="3.9" fill="#2c5e2c"/>
<path d="M667.77 303A7.6 7.6 0 0 1 682.97 303Z" fill="#93ee93"/>
<path d="M667.77 303A7.6 7.6 0 0 0 682.97 303Z" fill="#7cd87c"/>
<circle cx="675.37" cy="303" r="3.9" fill="#2c5e2c"/>
<path d="M667.77 326.3A7.6 7.6 0 0 1 682.97 326.3Z" fill="#93ee93"/>
<path d="M667.77 326.3A7.6 7.6 0 0 0 682.97 326.3Z" fill="#7cd87c"/>
<circle cx="675.37" cy="326.3" r="3.9" fill="#2c5e2c"/>
<path d="M667.77 349.6A7.6 7.6 0 0 1 682.97 349.6Z" fill="#93ee93"/>
<path d="M667.77 349.6A7.6 7.6 0 0 0 682.97 349.6Z" fill="#7cd87c"/>
<circle cx="675.37" cy="349.6" r="3.9" fill="#2c5e2c"/>
<path d="M667.77 372.9A7.6 7.6 0 0 1 682.97 372.9Z" fill="#93ee93"/>
<path d="M667.77 372.9A7.6 7.6 0 0 0 682.97 372.9Z" fill="#7cd87c"/>
<circle cx="675.37" cy="372.9" r="3.9" fill="#2c5e2c"/>
<path d="M691.08 116.5A7.6 7.6 0 0 1 706.28 116.5Z" fill="#93ee93"/>
<path d="M691.08 116.5A7.6 7.6 0 0 0 706.28 116.5Z" fill="#7cd87c"/>
<circle cx="698.68" cy="116.5" r="3.9" fill="#2c5e2c"/>
<path d="M691.08 139.8A7.6 7.6 0 0 1 706.28 139.8Z" fill="#93ee93"/>
<path d="M691.08 139.8A7.6 7.6 0 0 0 706.28 139.8Z" fill="#7cd87c"/>
<circle cx="698.68" cy="139.8" r="3.9" fill="#2c5e2c"/>
<path d="M691.08 163.1A7.6 7.6 0 0 1 706.28 163.1Z" fill="#93ee93"/>
<path d="M691.08 163.1A7.6 7.6 0 0 0 706.28 163.1Z" fill="#7cd87c"/>
<circle cx="698.68" cy="163.1" r="3.9" fill="#2c5e2c"/>
<path d="M691.08 186.4A7.6 7.6 0 0 1 706.28 186.4Z" fill="#93ee93"/>
<path d="M691.08 186.4A7.6 7.6 0 0 0 706.28 186.4Z" fill="#7cd87c"/>
<circle cx="698.68" cy="186.4" r="3.9" fill="#2c5e2c"/>
<path d="M691.08 209.7A7.6 7.6 0 0 1 706.28 209.7Z" fill="#93ee93"/>
<path d="M691.08 209.7A7.6 7.6 0 0 0 706.28 209.7Z" fill="#7cd87c"/>
<circle cx="698.68" cy="209.7" r="3.9" fill="#2c5e2c"/>
<path d="M691.08 279.7A7.6 7.6 0 0 1 706.28 279.7Z" fill="#93ee93"/>
<path d="M691.08 279.7A7.6 7.6 0 0 0 706.28 279.7Z" fill="#7cd87c"/>
<circle cx="698.68" cy="279.7" r="3.9" fill="#2c5e2c"/>
<path d="M691.08 303A7.6 7.6 0 0 1 706.28 303Z" fill="#93ee93"/>
<path d="M691.08 303A7.6 7.6 0 0 0 706.28 303Z" fill="#7cd87c"/>
<circle cx="698.68" cy="303" r="3.9" fill="#2c5e2c"/>
<path d="M691.08 326.3A7.6 7.6 0 0 1 706.28 326.3Z" fill="#93ee93"/>
<path d="M691.08 326.3A7.6 7.6 0 0 0 706.28 326.3Z" fill="#7cd87c"/>
<circle cx="698.68" cy="326.3" r="3.9" fill="#2c5e2c"/>
<path d="M691.08 349.6A7.6 7.6 0 0 1 706.28 349.6Z" fill="#93ee93"/>
<path d="M691.08 349.6A7.6 7.6 0 0 0 706.28 349.6Z" fill="#7cd87c"/>
<circle cx="698.68" cy="349.6" r="3.9" fill="#2c5e2c"/>
<path d="M691.08 372.9A7.6 7.6 0 0 1 706.28 372.9Z" fill="#93ee93"/>
<path d="M691.08 372.9A7.6 7.6 0 0 0 706.28 372.9Z" fill="#7cd87c"/>
<circle cx="698.68" cy="372.9" r="3.9" fill="#2c5e2c"/>
<path d="M714.39 116.5A7.6 7.6 0 0 1 729.59 116.5Z" fill="#93ee93"/>
<path d="M714.39 116.5A7.6 7.6 0 0 0 729.59 116.5Z" fill="#7cd87c"/>
<circle cx="721.99" cy="116.5" r="3.9" fill="#2c5e2c"/>
<path d="M714.39 139.8A7.6 7.6 0 0 1 729.59 139.8Z" fill="#93ee93"/>
<path d="M714.39 139.8A7.6 7.6 0 0 0 729.59 139.8Z" fill="#7cd87c"/>
<circle cx="721.99" cy="139.8" r="3.9" fill="#2c5e2c"/>
<path d="M714.39 163.1A7.6 7.6 0 0 1 729.59 163.1Z" fill="#93ee93"/>
<path d="M714.39 163.1A7.6 7.6 0 0 0 729.59 163.1Z" fill="#7cd87c"/>
<circle cx="721.99" cy="163.1" r="3.9" fill="#2c5e2c"/>
<path d="M714.39 186.4A7.6 7.6 0 0 1 729.59 186.4Z" fill="#93ee93"/>
<path d="M714.39 186.4A7.6 7.6 0 0 0 729.59 186.4Z" fill="#7cd87c"/>
<circle cx="721.99" cy="186.4" r="3.9" fill="#2c5e2c"/>
<path d="M714.39 209.7A7.6 7.6 0 0 1 729.59 209.7Z" fill="#93ee93"/>
<path d="M714.39 209.7A7.6 7.6 0 0 0 729.59 209.7Z" fill="#7cd87c"/>
<circle cx="721.99" cy="209.7" r="3.9" fill="#2c5e2c"/>
<path d="M714.39 279.7A7.6 7.6 0 0 1 729.59 279.7Z" fill="#93ee93"/>
<path d="M714.39 279.7A7.6 7.6 0 0 0 729.59 279.7Z" fill="#7cd87c"/>
<circle cx="721.99" cy="279.7" r="3.9" fill="#2c5e2c"/>
<path d="M714.39 303A7.6 7.6 0 0 1 729.59 303Z" fill="#93ee93"/>
<path d="M714.39 303A7.6 7.6 0 0 0 729.59 303Z" fill="#7cd87c"/>
<circle cx="721.99" cy="303" r="3.9" fill="#2c5e2c"/>
<path d="M714.39 326.3A7.6 7.6 0 0 1 729.59 326.3Z" fill="#93ee93"/>
<path d="M714.39 326.3A7.6 7.6 0 0 0 729.59 326.3Z" fill="#7cd87c"/>
<circle cx="721.99" cy="326.3" r="3.9" fill="#2c5e2c"/>
<path d="M714.39 349.6A7.6 7.6 0 0 1 729.59 349.6Z" fill="#93ee93"/>
<path d="M714.39 349.6A7.6 7.6 0 0 0 729.59 349.6Z" fill="#7cd87c"/>
<circle cx="721.99" cy="349.6" r="3.9" fill="#2c5e2c"/>
<path d="M714.39 372.9A7.6 7.6 0 0 1 729.59 372.9Z" fill="#93ee93"/>
<path d="M714.39 372.9A7.6 7.6 0 0 0 729.59 372.9Z" fill="#7cd87c"/>
<circle cx="721.99" cy="372.9" r="3.9" fill="#2c5e2c"/>
<text transform="translate(40 79.8) rotate(90) scale(1.0 1)" font-family="Liberation Sans" font-size="14.5" fill="#ababab" text-anchor="start" font-weight="normal" >30</text>
<text transform="translate(40 390.6) rotate(90) scale(1.0 1)" font-family="Liberation Sans" font-size="14.5" fill="#ababab" text-anchor="start" font-weight="normal" >30</text>
<text transform="translate(156.55 79.8) rotate(90) scale(1.0 1)" font-family="Liberation Sans" font-size="14.5" fill="#ababab" text-anchor="start" font-weight="normal" >25</text>
<text transform="translate(156.55 390.6) rotate(90) scale(1.0 1)" font-family="Liberation Sans" font-size="14.5" fill="#ababab" text-anchor="start" font-weight="normal" >25</text>
<text transform="translate(273.1 79.8) rotate(90) scale(1.0 1)" font-family="Liberation Sans" font-size="14.5" fill="#ababab" text-anchor="start" font-weight="normal" >20</text>
<text transform="translate(273.1 390.6) rotate(90) scale(1.0 1)" font-family="Liberation Sans" font-size="14.5" fill="#ababab" text-anchor="start" font-weight="normal" >20</text>
<text transform="translate(389.65 79.8) rotate(90) scale(1.0 1)" font-family="Liberation Sans" font-size="14.5" fill="#ababab" text-anchor="start" font-weight="normal" >15</text>
<text transform="translate(389.65 390.6) rotate(90) scale(1.0 1)" font-family="Liberation Sans" font-size="14.5" fill="#ababab" text-anchor="start" font-weight="normal" >15</text>
<text transform="translate(506.2 79.8) rotate(90) scale(1.0 1)" font-family="Liberation Sans" font-size="14.5" fill="#ababab" text-anchor="start" font-weight="normal" >10</text>
<text transform="translate(506.2 390.6) rotate(90) scale(1.0 1)" font-family="Liberation Sans" font-size="14.5" fill="#ababab" text-anchor="start" font-weight="normal" >10</text>
<text transform="translate(622.75 79.8) rotate(90) scale(1.0 1)" font-family="Liberation Sans" font-size="14.5" fill="#ababab" text-anchor="start" font-weight="normal" >5</text>
<text transform="translate(622.75 390.6) rotate(90) scale(1.0 1)" font-family="Liberation Sans" font-size="14.5" fill="#ababab" text-anchor="start" font-weight="normal" >5</text>
<text transform="translate(715.99 79.8) rotate(90) scale(1.0 1)" font-family="Liberation Sans" font-size="14.5" fill="#ababab" text-anchor="start" font-weight="normal" >1</text>
<text transform="translate(715.99 390.6) rotate(90) scale(1.0 1)" font-family="Liberation Sans" font-size="14.5" fill="#ababab" text-anchor="start" font-weight="normal" >1</text>
<text transform="translate(16.8 115.7) rotate(90) scale(1.0 1)" font-family="Liberation Sans" font-size="14" fill="#ababab" text-anchor="middle" font-weight="normal" >A</text>
<text transform="translate(739.3 115.7) rotate(90) scale(1.0 1)" font-family="Liberation Sans" font-size="14" fill="#ababab" text-anchor="middle" font-weight="normal" >A</text>
<text transform="translate(16.8 139) rotate(90) scale(1.0 1)" font-family="Liberation Sans" font-size="14" fill="#ababab" text-anchor="middle" font-weight="normal" >B</text>
<text transform="translate(739.3 139) rotate(90) scale(1.0 1)" font-family="Liberation Sans" font-size="14" fill="#ababab" text-anchor="middle" font-weight="normal" >B</text>
<text transform="translate(16.8 162.3) rotate(90) scale(1.0 1)" font-family="Liberation Sans" font-size="14" fill="#ababab" text-anchor="middle" font-weight="normal" >C</text>
<text transform="translate(739.3 162.3) rotate(90) scale(1.0 1)" font-family="Liberation Sans" font-size="14" fill="#ababab" text-anchor="middle" font-weight="normal" >C</text>
<text transform="translate(16.8 185.6) rotate(90) scale(1.0 1)" font-family="Liberation Sans" font-size="14" fill="#ababab" text-anchor="middle" font-weight="normal" >D</text>
<text transform="translate(739.3 185.6) rotate(90) scale(1.0 1)" font-family="Liberation Sans" font-size="14" fill="#ababab" text-anchor="middle" font-weight="normal" >D</text>
<text transform="translate(16.8 208.9) rotate(90) scale(1.0 1)" font-family="Liberation Sans" font-size="14" fill="#ababab" text-anchor="middle" font-weight="normal" >E</text>
<text transform="translate(739.3 208.9) rotate(90) scale(1.0 1)" font-family="Liberation Sans" font-size="14" fill="#ababab" text-anchor="middle" font-weight="normal" >E</text>
<text transform="translate(16.8 278.9) rotate(90) scale(1.0 1)" font-family="Liberation Sans" font-size="14" fill="#ababab" text-anchor="middle" font-weight="normal" >F</text>
<text transform="translate(739.3 278.9) rotate(90) scale(1.0 1)" font-family="Liberation Sans" font-size="14" fill="#ababab" text-anchor="middle" font-weight="normal" >F</text>
<text transform="translate(16.8 302.2) rotate(90) scale(1.0 1)" font-family="Liberation Sans" font-size="14" fill="#ababab" text-anchor="middle" font-weight="normal" >G</text>
<text transform="translate(739.3 302.2) rotate(90) scale(1.0 1)" font-family="Liberation Sans" font-size="14" fill="#ababab" text-anchor="middle" font-weight="normal" >G</text>
<text transform="translate(16.8 325.5) rotate(90) scale(1.0 1)" font-family="Liberation Sans" font-size="14" fill="#ababab" text-anchor="middle" font-weight="normal" >H</text>
<text transform="translate(739.3 325.5) rotate(90) scale(1.0 1)" font-family="Liberation Sans" font-size="14" fill="#ababab" text-anchor="middle" font-weight="normal" >H</text>
<text transform="translate(16.8 348.8) rotate(90) scale(1.0 1)" font-family="Liberation Sans" font-size="14" fill="#ababab" text-anchor="middle" font-weight="normal" >I</text>
<text transform="translate(739.3 348.8) rotate(90) scale(1.0 1)" font-family="Liberation Sans" font-size="14" fill="#ababab" text-anchor="middle" font-weight="normal" >I</text>
<text transform="translate(16.8 372.1) rotate(90) scale(1.0 1)" font-family="Liberation Sans" font-size="14" fill="#ababab" text-anchor="middle" font-weight="normal" >J</text>
<text transform="translate(739.3 372.1) rotate(90) scale(1.0 1)" font-family="Liberation Sans" font-size="14" fill="#ababab" text-anchor="middle" font-weight="normal" >J</text>
<rect x="42.3" y="123" width="164.5" height="164.6" fill="#2b5aa3"/>
<path d="M58 95.4H83.4A86.1 86.1 0 0 0 169.4 95.4H190V204.8H58Z" fill="#9b9b9b"/>
<rect x="73.1" y="204.8" width="3.6" height="23.9" fill="#b5c9c3"/>
<rect x="84" y="204.8" width="3.6" height="23.9" fill="#b5c9c3"/>
<rect x="94.8" y="204.8" width="3.6" height="23.9" fill="#b5c9c3"/>
<rect x="105" y="204.8" width="3.6" height="23.9" fill="#b5c9c3"/>
<rect x="115.1" y="204.8" width="3.6" height="23.9" fill="#b5c9c3"/>
<rect x="125.3" y="204.8" width="3.6" height="23.9" fill="#b5c9c3"/>
<rect x="136" y="204.8" width="3.6" height="23.9" fill="#b5c9c3"/>
<rect x="147" y="204.8" width="3.6" height="23.9" fill="#b5c9c3"/>
<rect x="158" y="204.8" width="3.6" height="23.9" fill="#b5c9c3"/>
<rect x="167.3" y="204.8" width="3.6" height="23.9" fill="#b5c9c3"/>
<rect x="77.3" y="233.1" width="9.5" height="25.6" fill="#474747"/>
<rect x="77.3" y="233.1" width="2.6" height="25.6" fill="#2a2a2a"/>
<path d="M79.9 233.1h6.9v4.9q-3.45 -1.3 -6.9 0z" fill="#e2e2e2"/>
<path d="M79.9 258.7h6.9v-4.9q-3.45 1.3 -6.9 0z" fill="#e2e2e2"/>
<rect x="95" y="233.1" width="9.5" height="25.6" fill="#474747"/>
<rect x="95" y="233.1" width="2.6" height="25.6" fill="#2a2a2a"/>
<path d="M97.6 233.1h6.9v4.9q-3.45 -1.3 -6.9 0z" fill="#e2e2e2"/>
<path d="M97.6 258.7h6.9v-4.9q-3.45 1.3 -6.9 0z" fill="#e2e2e2"/>
<rect x="113.1" y="233.1" width="9.5" height="25.6" fill="#474747"/>
<rect x="113.1" y="233.1" width="2.6" height="25.6" fill="#2a2a2a"/>
<path d="M115.7 233.1h6.9v4.9q-3.45 -1.3 -6.9 0z" fill="#e2e2e2"/>
<path d="M115.7 258.7h6.9v-4.9q-3.45 1.3 -6.9 0z" fill="#e2e2e2"/>
<rect x="130.7" y="233.1" width="9.5" height="25.6" fill="#474747"/>
<rect x="130.7" y="233.1" width="2.6" height="25.6" fill="#2a2a2a"/>
<path d="M133.3 233.1h6.9v4.9q-3.45 -1.3 -6.9 0z" fill="#e2e2e2"/>
<path d="M133.3 258.7h6.9v-4.9q-3.45 1.3 -6.9 0z" fill="#e2e2e2"/>
<rect x="145.3" y="233.1" width="9.5" height="25.6" fill="#474747"/>
<rect x="145.3" y="233.1" width="2.6" height="25.6" fill="#2a2a2a"/>
<path d="M147.9 233.1h6.9v4.9q-3.45 -1.3 -6.9 0z" fill="#e2e2e2"/>
<path d="M147.9 258.7h6.9v-4.9q-3.45 1.3 -6.9 0z" fill="#e2e2e2"/>
<rect x="163" y="233.1" width="9.5" height="25.6" fill="#474747"/>
<rect x="163" y="233.1" width="2.6" height="25.6" fill="#2a2a2a"/>
<path d="M165.6 233.1h6.9v4.9q-3.45 -1.3 -6.9 0z" fill="#e2e2e2"/>
<path d="M165.6 258.7h6.9v-4.9q-3.45 1.3 -6.9 0z" fill="#e2e2e2"/>
<circle cx="56.4" cy="248.2" r="11.1" fill="#ffffff" stroke="#999999" stroke-width="2.2"/>
<circle cx="193.5" cy="248.2" r="11.1" fill="#ffffff" stroke="#999999" stroke-width="2.2"/>
<text transform="translate(68.3 227.8) rotate(-90) scale(1.0 1)" font-family="Liberation Sans" font-size="11.5" fill="#dfe8f4" text-anchor="middle" font-weight="normal" >U1</text>
<rect x="59.8" y="268.2" width="18.2" height="18" fill="#a3a3a3"/>
<circle cx="68.91" cy="277.1" r="6.5" fill="#66c066"/>
<circle cx="68.91" cy="277.1" r="4.6" fill="#c8f7c8"/>
<circle cx="92.22" cy="277.1" r="9" fill="#a19d9d"/>
<circle cx="92.22" cy="277.1" r="6.5" fill="#66c066"/>
<circle cx="92.22" cy="277.1" r="4.6" fill="#c8f7c8"/>
<circle cx="115.53" cy="277.1" r="9" fill="#a19d9d"/>
<circle cx="115.53" cy="277.1" r="6.5" fill="#66c066"/>
<circle cx="115.53" cy="277.1" r="4.6" fill="#c8f7c8"/>
<circle cx="138.84" cy="277.1" r="9" fill="#a19d9d"/>
<circle cx="138.84" cy="277.1" r="6.5" fill="#66c066"/>
<circle cx="138.84" cy="277.1" r="4.6" fill="#c8f7c8"/>
<circle cx="162.15" cy="277.1" r="9" fill="#a19d9d"/>
<circle cx="162.15" cy="277.1" r="6.5" fill="#66c066"/>
<circle cx="162.15" cy="277.1" r="4.6" fill="#c8f7c8"/>
<circle cx="185.46" cy="277.1" r="9" fill="#a19d9d"/>
<circle cx="185.46" cy="277.1" r="6.5" fill="#66c066"/>
<circle cx="185.46" cy="277.1" r="4.6" fill="#c8f7c8"/>
<rect x="220.8" y="22" width="93.2" height="116.8" fill="#087f2e"/>
<rect x="225.8" y="11.3" width="82.3" height="68.3" fill="#d8d8d8"/>
<rect x="225.8" y="11.3" width="82.3" height="2.5" fill="#c3c3c3"/>
<rect x="233.1" y="13.7" width="3.9" height="65.9" fill="#c4c4c4"/>
<rect x="297" y="13.7" width="5.3" height="65.9" fill="#f1f1f1"/>
<rect x="245.4" y="56.7" width="11.4" height="4.9" fill="#8f8f8f"/>
<rect x="278" y="56.7" width="11.2" height="4.9" fill="#8f8f8f"/>
<path d="M242.9 79.6V71.5Q242.9 69 245.4 69H255.2A2.05 2.05 0 0 1 255.2 73.1H248.7V79.6Z" fill="#8f8f8f"/>
<path d="M292.1 79.6V71.5Q292.1 69 289.6 69H279.8A2.05 2.05 0 0 0 279.8 73.1H286.2V79.6Z" fill="#8f8f8f"/>
<path d="M226 79.6V74.5L229 73.7V79.6Z" fill="#9a9a9a"/>
<path d="M308.1 79.6V74.5L305.1 73.7V79.6Z" fill="#9a9a9a"/>
<rect x="235.5" y="80" width="2.2" height="2.4" fill="#e8e8e8"/>
<rect x="240.2" y="80" width="2.2" height="2.4" fill="#e8e8e8"/>
<rect x="244.9" y="80" width="2.2" height="2.4" fill="#e8e8e8"/>
<rect x="249.6" y="80" width="2.2" height="2.4" fill="#e8e8e8"/>
<rect x="254.3" y="80" width="2.2" height="2.4" fill="#e8e8e8"/>
<rect x="259" y="80" width="2.2" height="2.4" fill="#e8e8e8"/>
<rect x="263.7" y="80" width="2.2" height="2.4" fill="#e8e8e8"/>
<rect x="268.4" y="80" width="2.2" height="2.4" fill="#e8e8e8"/>
<rect x="273.1" y="80" width="2.2" height="2.4" fill="#e8e8e8"/>
<rect x="277.8" y="80" width="2.2" height="2.4" fill="#e8e8e8"/>
<rect x="282.5" y="80" width="2.2" height="2.4" fill="#e8e8e8"/>
<rect x="287.2" y="80" width="2.2" height="2.4" fill="#e8e8e8"/>
<rect x="291.9" y="80" width="2.2" height="2.4" fill="#e8e8e8"/>
<rect x="296.6" y="80" width="2.2" height="2.4" fill="#e8e8e8"/>
<circle cx="232.48" cy="116.4" r="8.7" fill="#a89f72"/>
<circle cx="232.48" cy="116.4" r="5.9" fill="#6cc86c"/>
<circle cx="232.48" cy="116.4" r="4.3" fill="#2c8a2c"/>
<text transform="translate(231.5 136.2) scale(0.78 1)" font-family="Liberation Sans" font-size="8.6" fill="#f4f4f4" text-anchor="middle">G</text>
<circle cx="255.79" cy="116.4" r="8.7" fill="#a89f72"/>
<circle cx="255.79" cy="116.4" r="5.9" fill="#6cc86c"/>
<circle cx="255.79" cy="116.4" r="4.3" fill="#2c8a2c"/>
<text transform="translate(254.8 136.2) scale(0.78 1)" font-family="Liberation Sans" font-size="8.6" fill="#f4f4f4" text-anchor="middle">D+</text>
<circle cx="279.1" cy="116.4" r="8.7" fill="#a89f72"/>
<circle cx="279.1" cy="116.4" r="5.9" fill="#6cc86c"/>
<circle cx="279.1" cy="116.4" r="4.3" fill="#2c8a2c"/>
<text transform="translate(280.2 136.2) scale(0.78 1)" font-family="Liberation Sans" font-size="8.6" fill="#f4f4f4" text-anchor="middle">D-</text>
<circle cx="302.41" cy="116.4" r="8.7" fill="#a89f72"/>
<circle cx="302.41" cy="116.4" r="5.9" fill="#6cc86c"/>
<circle cx="302.41" cy="116.4" r="4.3" fill="#2c8a2c"/>
<text transform="translate(302.0 136.2) scale(0.78 1)" font-family="Liberation Sans" font-size="8.6" fill="#f4f4f4" text-anchor="middle">V</text>
<rect x="555" y="127.8" width="193.2" height="163.9" rx="14" ry="14" fill="#1b1b1b"/>
<rect x="590.2" y="153.9" width="97.9" height="114.2" fill="#e6e6e6"/>
<circle cx="582.13" cy="139.9" r="6.4" fill="#6dc24f" stroke="#ae9f6d" stroke-width="1"/>
<circle cx="582.13" cy="139.9" r="3.9" fill="#238a23"/>
<circle cx="582.13" cy="279.8" r="6.4" fill="#6dc24f" stroke="#ae9f6d" stroke-width="1"/>
<circle cx="582.13" cy="279.8" r="3.9" fill="#238a23"/>
<circle cx="605.44" cy="139.9" r="6.4" fill="#6dc24f" stroke="#ae9f6d" stroke-width="1"/>
<circle cx="605.44" cy="139.9" r="3.9" fill="#238a23"/>
<circle cx="605.44" cy="279.8" r="6.4" fill="#6dc24f" stroke="#ae9f6d" stroke-width="1"/>
<circle cx="605.44" cy="279.8" r="3.9" fill="#238a23"/>
<circle cx="628.75" cy="139.9" r="6.4" fill="#6dc24f" stroke="#ae9f6d" stroke-width="1"/>
<circle cx="628.75" cy="139.9" r="3.9" fill="#238a23"/>
<circle cx="628.75" cy="279.8" r="6.4" fill="#6dc24f" stroke="#ae9f6d" stroke-width="1"/>
<circle cx="628.75" cy="279.8" r="3.9" fill="#238a23"/>
<circle cx="652.06" cy="139.9" r="6.4" fill="#6dc24f" stroke="#ae9f6d" stroke-width="1"/>
<circle cx="652.06" cy="139.9" r="3.9" fill="#238a23"/>
<circle cx="652.06" cy="279.8" r="6.4" fill="#6dc24f" stroke="#ae9f6d" stroke-width="1"/>
<circle cx="652.06" cy="279.8" r="3.9" fill="#238a23"/>
<circle cx="675.37" cy="139.9" r="6.4" fill="#6dc24f" stroke="#ae9f6d" stroke-width="1"/>
<circle cx="675.37" cy="139.9" r="3.9" fill="#238a23"/>
<circle cx="675.37" cy="279.8" r="6.4" fill="#6dc24f" stroke="#ae9f6d" stroke-width="1"/>
<circle cx="675.37" cy="279.8" r="3.9" fill="#238a23"/>
<circle cx="698.68" cy="139.9" r="6.4" fill="#6dc24f" stroke="#ae9f6d" stroke-width="1"/>
<circle cx="698.68" cy="139.9" r="3.9" fill="#238a23"/>
<circle cx="698.68" cy="279.8" r="6.4" fill="#6dc24f" stroke="#ae9f6d" stroke-width="1"/>
<circle cx="698.68" cy="279.8" r="3.9" fill="#238a23"/>
<circle cx="721.99" cy="139.9" r="6.4" fill="#6dc24f" stroke="#ae9f6d" stroke-width="1"/>
<circle cx="721.99" cy="139.9" r="3.9" fill="#238a23"/>
<circle cx="721.99" cy="279.8" r="6.4" fill="#6dc24f" stroke="#ae9f6d" stroke-width="1"/>
<circle cx="721.99" cy="279.8" r="3.9" fill="#238a23"/>
<rect x="623" y="167.7" width="11" height="1.3" fill="#111"/>
<rect x="627.85" y="162.8" width="1.3" height="11" fill="#111"/>
<text transform="translate(668 211) rotate(90) scale(1.0 1)" font-family="Liberation Sans" font-size="17.5" fill="#111111" text-anchor="middle" font-weight="normal" >Seeed Studio</text>
<text transform="translate(647.8 208.8) rotate(90) scale(1.0 1)" font-family="Liberation Sans" font-size="9.75" fill="#111111" text-anchor="middle" font-weight="normal" >Model XIAO ESP32-C3</text>
<text transform="translate(725.5 157.8) rotate(90) scale(1.0 1)" font-family="Liberation Sans" font-size="18" fill="#ffffff" text-anchor="middle" font-weight="normal" stroke="#ffffff" stroke-width="0.35">R</text>
<text transform="translate(725.5 264) rotate(90) scale(1.0 1)" font-family="Liberation Sans" font-size="18" fill="#ffffff" text-anchor="middle" font-weight="normal" stroke="#ffffff" stroke-width="0.35">B</text>
<rect x="698.5" y="169" width="69.2" height="82.2" fill="#dadada"/>
<rect x="698.5" y="176" width="69.2" height="4.2" fill="#c2c2c2"/>
<rect x="698.5" y="241.5" width="69.2" height="3.6" fill="#efefef"/>
<rect x="764.3" y="169" width="3.7" height="82.2" fill="#bababa"/>
<path d="M698.6 186H707Q710.6 186 710.6 189.6V197.6A2.1 2.1 0 0 1 706.4 197.6V190.4H698.6Z" fill="#8f8f8f"/>
<path d="M698.6 233.6H707Q710.6 233.6 710.6 230V222A2.1 2.1 0 0 0 706.4 222V229.2H698.6Z" fill="#8f8f8f"/>
<rect x="717.8" y="188.8" width="4" height="10.9" fill="#8f8f8f"/>
<rect x="717.8" y="221.7" width="4" height="10" fill="#8f8f8f"/>
<path d="M698.6 169H705.5L703 172.3H698.6Z" fill="#9a9a9a"/>
<path d="M698.6 251.2H705.5L703 248H698.6Z" fill="#9a9a9a"/>
<rect x="696.5" y="179" width="2.4" height="1.6" fill="#e6e6e6"/>
<rect x="696.5" y="182.37" width="2.4" height="1.6" fill="#e6e6e6"/>
<rect x="696.5" y="185.74" width="2.4" height="1.6" fill="#e6e6e6"/>
<rect x="696.5" y="189.11" width="2.4" height="1.6" fill="#e6e6e6"/>
<rect x="696.5" y="192.48" width="2.4" height="1.6" fill="#e6e6e6"/>
<rect x="696.5" y="195.85" width="2.4" height="1.6" fill="#e6e6e6"/>
<rect x="696.5" y="199.22" width="2.4" height="1.6" fill="#e6e6e6"/>
<rect x="696.5" y="202.59" width="2.4" height="1.6" fill="#e6e6e6"/>
<rect x="696.5" y="205.96" width="2.4" height="1.6" fill="#e6e6e6"/>
<rect x="696.5" y="209.33" width="2.4" height="1.6" fill="#e6e6e6"/>
<rect x="696.5" y="212.7" width="2.4" height="1.6" fill="#e6e6e6"/>
<rect x="696.5" y="216.07" width="2.4" height="1.6" fill="#e6e6e6"/>
<rect x="696.5" y="219.44" width="2.4" height="1.6" fill="#e6e6e6"/>
<rect x="696.5" y="222.81" width="2.4" height="1.6" fill="#e6e6e6"/>
<rect x="696.5" y="226.18" width="2.4" height="1.6" fill="#e6e6e6"/>
<rect x="696.5" y="229.55" width="2.4" height="1.6" fill="#e6e6e6"/>
<rect x="696.5" y="232.92" width="2.4" height="1.6" fill="#e6e6e6"/>
<rect x="696.5" y="236.29" width="2.4" height="1.6" fill="#e6e6e6"/>
<rect x="696.5" y="239.66" width="2.4" height="1.6" fill="#e6e6e6"/>
<circle cx="185.86" cy="372.9" r="5.6" fill="none" stroke="#55e055" stroke-width="2"/>
<circle cx="200.51" cy="466.4" r="5.6" fill="none" stroke="#55e055" stroke-width="2"/>
<line x1="185.86" y1="372.9" x2="200.51" y2="466.4" stroke="#7a3a79" stroke-width="10" stroke-linecap="round"/>
<line x1="185.86" y1="372.9" x2="200.51" y2="466.4" stroke="#a957a8" stroke-width="5.6" stroke-linecap="butt"/>
<circle cx="185.86" cy="372.9" r="5.6" fill="none" stroke="#55e055" stroke-width="2" stroke-opacity="0.4"/>
<circle cx="185.86" cy="372.9" r="3.8" fill="#8b7b8b" stroke="#665266" stroke-width="1.9"/>
<circle cx="200.51" cy="466.4" r="5.6" fill="none" stroke="#55e055" stroke-width="2" stroke-opacity="0.4"/>
<circle cx="200.51" cy="466.4" r="3.8" fill="#8b7b8b" stroke="#665266" stroke-width="1.9"/>
<circle cx="232.48" cy="186.4" r="5.6" fill="none" stroke="#55e055" stroke-width="2"/>
<circle cx="223.82" cy="466.4" r="5.6" fill="none" stroke="#55e055" stroke-width="2"/>
<line x1="232.48" y1="186.4" x2="223.82" y2="466.4" stroke="#7a3a79" stroke-width="10" stroke-linecap="round"/>
<line x1="232.48" y1="186.4" x2="223.82" y2="466.4" stroke="#a957a8" stroke-width="5.6" stroke-linecap="butt"/>
<circle cx="232.48" cy="186.4" r="5.6" fill="none" stroke="#55e055" stroke-width="2" stroke-opacity="0.4"/>
<circle cx="232.48" cy="186.4" r="3.8" fill="#8b7b8b" stroke="#665266" stroke-width="1.9"/>
<circle cx="223.82" cy="466.4" r="5.6" fill="none" stroke="#55e055" stroke-width="2" stroke-opacity="0.4"/>
<circle cx="223.82" cy="466.4" r="3.8" fill="#8b7b8b" stroke="#665266" stroke-width="1.9"/>
<circle cx="349.03" cy="209.7" r="5.6" fill="none" stroke="#55e055" stroke-width="2"/>
<circle cx="340.37" cy="466.4" r="5.6" fill="none" stroke="#55e055" stroke-width="2"/>
<line x1="349.03" y1="209.7" x2="340.37" y2="466.4" stroke="#7a3a79" stroke-width="10" stroke-linecap="round"/>
<line x1="349.03" y1="209.7" x2="340.37" y2="466.4" stroke="#a957a8" stroke-width="5.6" stroke-linecap="butt"/>
<circle cx="349.03" cy="209.7" r="5.6" fill="none" stroke="#55e055" stroke-width="2" stroke-opacity="0.4"/>
<circle cx="349.03" cy="209.7" r="3.8" fill="#8b7b8b" stroke="#665266" stroke-width="1.9"/>
<circle cx="340.37" cy="466.4" r="5.6" fill="none" stroke="#55e055" stroke-width="2" stroke-opacity="0.4"/>
<circle cx="340.37" cy="466.4" r="3.8" fill="#8b7b8b" stroke="#665266" stroke-width="1.9"/>
<circle cx="372.34" cy="209.7" r="5.6" fill="none" stroke="#55e055" stroke-width="2"/>
<circle cx="363.68" cy="443.3" r="5.6" fill="none" stroke="#55e055" stroke-width="2"/>
<line x1="372.34" y1="209.7" x2="363.68" y2="443.3" stroke="#b26a37" stroke-width="10" stroke-linecap="round"/>
<line x1="372.34" y1="209.7" x2="363.68" y2="443.3" stroke="#f06400" stroke-width="5.6" stroke-linecap="butt"/>
<circle cx="372.34" cy="209.7" r="5.6" fill="none" stroke="#55e055" stroke-width="2" stroke-opacity="0.4"/>
<circle cx="372.34" cy="209.7" r="3.8" fill="#ca8600" stroke="#a27434" stroke-width="1.9"/>
<circle cx="363.68" cy="443.3" r="5.6" fill="none" stroke="#55e055" stroke-width="2" stroke-opacity="0.4"/>
<circle cx="363.68" cy="443.3" r="3.8" fill="#ca8600" stroke="#a27434" stroke-width="1.9"/>
<circle cx="675.37" cy="303" r="5.6" fill="none" stroke="#55e055" stroke-width="2"/>
<circle cx="666.71" cy="443.3" r="5.6" fill="none" stroke="#55e055" stroke-width="2"/>
<line x1="675.37" y1="303" x2="666.71" y2="443.3" stroke="#b26a37" stroke-width="10" stroke-linecap="round"/>
<line x1="675.37" y1="303" x2="666.71" y2="443.3" stroke="#f06400" stroke-width="5.6" stroke-linecap="butt"/>
<circle cx="675.37" cy="303" r="5.6" fill="none" stroke="#55e055" stroke-width="2" stroke-opacity="0.4"/>
<circle cx="675.37" cy="303" r="3.8" fill="#ca8600" stroke="#a27434" stroke-width="1.9"/>
<circle cx="666.71" cy="443.3" r="5.6" fill="none" stroke="#55e055" stroke-width="2" stroke-opacity="0.4"/>
<circle cx="666.71" cy="443.3" r="3.8" fill="#ca8600" stroke="#a27434" stroke-width="1.9"/>
<circle cx="698.68" cy="303" r="5.6" fill="none" stroke="#55e055" stroke-width="2"/>
<circle cx="690.02" cy="466.4" r="5.6" fill="none" stroke="#55e055" stroke-width="2"/>
<line x1="698.68" y1="303" x2="690.02" y2="466.4" stroke="#7a3a79" stroke-width="10" stroke-linecap="round"/>
<line x1="698.68" y1="303" x2="690.02" y2="466.4" stroke="#a957a8" stroke-width="5.6" stroke-linecap="butt"/>
<circle cx="698.68" cy="303" r="5.6" fill="none" stroke="#55e055" stroke-width="2" stroke-opacity="0.4"/>
<circle cx="698.68" cy="303" r="3.8" fill="#8b7b8b" stroke="#665266" stroke-width="1.9"/>
<circle cx="690.02" cy="466.4" r="5.6" fill="none" stroke="#55e055" stroke-width="2" stroke-opacity="0.4"/>
<circle cx="690.02" cy="466.4" r="3.8" fill="#8b7b8b" stroke="#665266" stroke-width="1.9"/>
<circle cx="69.31" cy="372.9" r="5.6" fill="none" stroke="#55e055" stroke-width="2"/>
<circle cx="130.58" cy="443.3" r="5.6" fill="none" stroke="#55e055" stroke-width="2"/>
<line x1="69.31" y1="372.9" x2="130.58" y2="443.3" stroke="#b26a37" stroke-width="10" stroke-linecap="round"/>
<line x1="69.31" y1="372.9" x2="130.58" y2="443.3" stroke="#f06400" stroke-width="5.6" stroke-linecap="butt"/>
<circle cx="69.31" cy="372.9" r="5.6" fill="none" stroke="#55e055" stroke-width="2" stroke-opacity="0.4"/>
<circle cx="69.31" cy="372.9" r="3.8" fill="#ca8600" stroke="#a27434" stroke-width="1.9"/>
<circle cx="130.58" cy="443.3" r="5.6" fill="none" stroke="#55e055" stroke-width="2" stroke-opacity="0.4"/>
<circle cx="130.58" cy="443.3" r="3.8" fill="#ca8600" stroke="#a27434" stroke-width="1.9"/>
<circle cx="302.41" cy="186.4" r="5.6" fill="none" stroke="#55e055" stroke-width="2"/>
<circle cx="721.99" cy="372.9" r="5.6" fill="none" stroke="#55e055" stroke-width="2"/>
<line x1="302.41" y1="186.4" x2="249.8" y2="276.2" stroke="#b26a37" stroke-width="10" stroke-linecap="round"/>
<line x1="302.41" y1="186.4" x2="249.8" y2="276.2" stroke="#f06400" stroke-width="5.6" stroke-linecap="butt"/>
<line x1="249.8" y1="276.2" x2="255.5" y2="347" stroke="#b26a37" stroke-width="10" stroke-linecap="round"/>
<line x1="249.8" y1="276.2" x2="255.5" y2="347" stroke="#f06400" stroke-width="5.6" stroke-linecap="butt"/>
<line x1="255.5" y1="347" x2="534.4" y2="350.2" stroke="#b26a37" stroke-width="10" stroke-linecap="round"/>
<line x1="255.5" y1="347" x2="534.4" y2="350.2" stroke="#f06400" stroke-width="5.6" stroke-linecap="butt"/>
<line x1="534.4" y1="350.2" x2="721.99" y2="372.9" stroke="#b26a37" stroke-width="10" stroke-linecap="round"/>
<line x1="534.4" y1="350.2" x2="721.99" y2="372.9" stroke="#f06400" stroke-width="5.6" stroke-linecap="butt"/>
<circle cx="249.8" cy="276.2" r="5.2" fill="#b26a37"/>
<circle cx="255.5" cy="347" r="5.2" fill="#b26a37"/>
<circle cx="534.4" cy="350.2" r="5.2" fill="#b26a37"/>
<circle cx="302.41" cy="186.4" r="5.6" fill="none" stroke="#55e055" stroke-width="2" stroke-opacity="0.4"/>
<circle cx="302.41" cy="186.4" r="3.8" fill="#ca8600" stroke="#a27434" stroke-width="1.9"/>
<circle cx="721.99" cy="372.9" r="5.6" fill="none" stroke="#55e055" stroke-width="2" stroke-opacity="0.4"/>
<circle cx="721.99" cy="372.9" r="3.8" fill="#ca8600" stroke="#a27434" stroke-width="1.9"/>
<circle cx="628.75" cy="116.5" r="5.6" fill="none" stroke="#55e055" stroke-width="2"/>
<circle cx="418.96" cy="186.4" r="5.6" fill="none" stroke="#55e055" stroke-width="2"/>
<line x1="628.75" y1="116.5" x2="623.3" y2="90.4" stroke="#b26a37" stroke-width="10" stroke-linecap="round"/>
<line x1="628.75" y1="116.5" x2="623.3" y2="90.4" stroke="#f06400" stroke-width="5.6" stroke-linecap="butt"/>
<line x1="623.3" y1="90.4" x2="534.8" y2="92.7" stroke="#b26a37" stroke-width="10" stroke-linecap="round"/>
<line x1="623.3" y1="90.4" x2="534.8" y2="92.7" stroke="#f06400" stroke-width="5.6" stroke-linecap="butt"/>
<line x1="534.8" y1="92.7" x2="512.8" y2="186.6" stroke="#b26a37" stroke-width="10" stroke-linecap="round"/>
<line x1="534.8" y1="92.7" x2="512.8" y2="186.6" stroke="#f06400" stroke-width="5.6" stroke-linecap="butt"/>
<line x1="512.8" y1="186.6" x2="418.96" y2="186.4" stroke="#b26a37" stroke-width="10" stroke-linecap="round"/>
<line x1="512.8" y1="186.6" x2="418.96" y2="186.4" stroke="#f06400" stroke-width="5.6" stroke-linecap="butt"/>
<circle cx="623.3" cy="90.4" r="5.2" fill="#b26a37"/>
<circle cx="534.8" cy="92.7" r="5.2" fill="#b26a37"/>
<circle cx="512.8" cy="186.6" r="5.2" fill="#b26a37"/>
<circle cx="628.75" cy="116.5" r="5.6" fill="none" stroke="#55e055" stroke-width="2" stroke-opacity="0.4"/>
<circle cx="628.75" cy="116.5" r="3.8" fill="#ca8600" stroke="#a27434" stroke-width="1.9"/>
<circle cx="418.96" cy="186.4" r="5.6" fill="none" stroke="#55e055" stroke-width="2" stroke-opacity="0.4"/>
<circle cx="418.96" cy="186.4" r="3.8" fill="#ca8600" stroke="#a27434" stroke-width="1.9"/>
<circle cx="605.44" cy="116.5" r="5.6" fill="none" stroke="#55e055" stroke-width="2"/>
<circle cx="395.65" cy="209.7" r="5.6" fill="none" stroke="#55e055" stroke-width="2"/>
<line x1="605.44" y1="116.5" x2="558.5" y2="116.3" stroke="#7a3a79" stroke-width="10" stroke-linecap="round"/>
<line x1="605.44" y1="116.5" x2="558.5" y2="116.3" stroke="#a957a8" stroke-width="5.6" stroke-linecap="butt"/>
<line x1="558.5" y1="116.3" x2="535.5" y2="209.4" stroke="#7a3a79" stroke-width="10" stroke-linecap="round"/>
<line x1="558.5" y1="116.3" x2="535.5" y2="209.4" stroke="#a957a8" stroke-width="5.6" stroke-linecap="butt"/>
<line x1="535.5" y1="209.4" x2="395.65" y2="209.7" stroke="#7a3a79" stroke-width="10" stroke-linecap="round"/>
<line x1="535.5" y1="209.4" x2="395.65" y2="209.7" stroke="#a957a8" stroke-width="5.6" stroke-linecap="butt"/>
<circle cx="558.5" cy="116.3" r="5.2" fill="#7a3a79"/>
<circle cx="535.5" cy="209.4" r="5.2" fill="#7a3a79"/>
<circle cx="605.44" cy="116.5" r="5.6" fill="none" stroke="#55e055" stroke-width="2" stroke-opacity="0.4"/>
<circle cx="605.44" cy="116.5" r="3.8" fill="#8b7b8b" stroke="#665266" stroke-width="1.9"/>
<circle cx="395.65" cy="209.7" r="5.6" fill="none" stroke="#55e055" stroke-width="2" stroke-opacity="0.4"/>
<circle cx="395.65" cy="209.7" r="3.8" fill="#8b7b8b" stroke="#665266" stroke-width="1.9"/>
<circle cx="652.06" cy="116.5" r="5.6" fill="none" stroke="#55e055" stroke-width="2"/>
<circle cx="92.62" cy="303" r="5.6" fill="none" stroke="#55e055" stroke-width="2"/>
<line x1="652.06" y1="116.5" x2="652.1" y2="69.5" stroke="#7a3a79" stroke-width="10" stroke-linecap="round"/>
<line x1="652.06" y1="116.5" x2="652.1" y2="69.5" stroke="#a957a8" stroke-width="5.6" stroke-linecap="butt"/>
<line x1="652.1" y1="69.5" x2="512.6" y2="69.5" stroke="#7a3a79" stroke-width="10" stroke-linecap="round"/>
<line x1="652.1" y1="69.5" x2="512.6" y2="69.5" stroke="#a957a8" stroke-width="5.6" stroke-linecap="butt"/>
<line x1="512.6" y1="69.5" x2="488.3" y2="256.4" stroke="#7a3a79" stroke-width="10" stroke-linecap="round"/>
<line x1="512.6" y1="69.5" x2="488.3" y2="256.4" stroke="#a957a8" stroke-width="5.6" stroke-linecap="butt"/>
<line x1="488.3" y1="256.4" x2="302" y2="280" stroke="#7a3a79" stroke-width="10" stroke-linecap="round"/>
<line x1="488.3" y1="256.4" x2="302" y2="280" stroke="#a957a8" stroke-width="5.6" stroke-linecap="butt"/>
<line x1="302" y1="280" x2="162.6" y2="302.8" stroke="#7a3a79" stroke-width="10" stroke-linecap="round"/>
<line x1="302" y1="280" x2="162.6" y2="302.8" stroke="#a957a8" stroke-width="5.6" stroke-linecap="butt"/>
<line x1="162.6" y1="302.8" x2="92.62" y2="303" stroke="#7a3a79" stroke-width="10" stroke-linecap="round"/>
<line x1="162.6" y1="302.8" x2="92.62" y2="303" stroke="#a957a8" stroke-width="5.6" stroke-linecap="butt"/>
<circle cx="652.1" cy="69.5" r="5.2" fill="#7a3a79"/>
<circle cx="512.6" cy="69.5" r="5.2" fill="#7a3a79"/>
<circle cx="488.3" cy="256.4" r="5.2" fill="#7a3a79"/>
<circle cx="302" cy="280" r="5.2" fill="#7a3a79"/>
<circle cx="162.6" cy="302.8" r="5.2" fill="#7a3a79"/>
<circle cx="652.06" cy="116.5" r="5.6" fill="none" stroke="#55e055" stroke-width="2" stroke-opacity="0.4"/>
<circle cx="652.06" cy="116.5" r="3.8" fill="#8b7b8b" stroke="#665266" stroke-width="1.9"/>
<circle cx="92.62" cy="303" r="5.6" fill="none" stroke="#55e055" stroke-width="2" stroke-opacity="0.4"/>
<circle cx="92.62" cy="303" r="3.8" fill="#8b7b8b" stroke="#665266" stroke-width="1.9"/>
<circle cx="115.93" cy="326.3" r="5.6" fill="none" stroke="#55e055" stroke-width="2"/>
<circle cx="652.06" cy="303" r="5.6" fill="none" stroke="#55e055" stroke-width="2"/>
<line x1="115.93" y1="326.3" x2="278.3" y2="302.8" stroke="#b26a37" stroke-width="10" stroke-linecap="round"/>
<line x1="115.93" y1="326.3" x2="278.3" y2="302.8" stroke="#f06400" stroke-width="5.6" stroke-linecap="butt"/>
<line x1="278.3" y1="302.8" x2="534.4" y2="279" stroke="#b26a37" stroke-width="10" stroke-linecap="round"/>
<line x1="278.3" y1="302.8" x2="534.4" y2="279" stroke="#f06400" stroke-width="5.6" stroke-linecap="butt"/>
<line x1="534.4" y1="279" x2="652.06" y2="303" stroke="#b26a37" stroke-width="10" stroke-linecap="round"/>
<line x1="534.4" y1="279" x2="652.06" y2="303" stroke="#f06400" stroke-width="5.6" stroke-linecap="butt"/>
<circle cx="278.3" cy="302.8" r="5.2" fill="#b26a37"/>
<circle cx="534.4" cy="279" r="5.2" fill="#b26a37"/>
<circle cx="115.93" cy="326.3" r="5.6" fill="none" stroke="#55e055" stroke-width="2" stroke-opacity="0.4"/>
<circle cx="115.93" cy="326.3" r="3.8" fill="#ca8600" stroke="#a27434" stroke-width="1.9"/>
<circle cx="652.06" cy="303" r="5.6" fill="none" stroke="#55e055" stroke-width="2" stroke-opacity="0.4"/>
<circle cx="652.06" cy="303" r="3.8" fill="#ca8600" stroke="#a27434" stroke-width="1.9"/>
<circle cx="139.24" cy="349.6" r="5.6" fill="none" stroke="#55e055" stroke-width="2"/>
<circle cx="605.44" cy="326.3" r="5.6" fill="none" stroke="#55e055" stroke-width="2"/>
<line x1="139.24" y1="349.6" x2="278.3" y2="326.3" stroke="#7a3a79" stroke-width="10" stroke-linecap="round"/>
<line x1="139.24" y1="349.6" x2="278.3" y2="326.3" stroke="#a957a8" stroke-width="5.6" stroke-linecap="butt"/>
<line x1="278.3" y1="326.3" x2="534.4" y2="302.5" stroke="#7a3a79" stroke-width="10" stroke-linecap="round"/>
<line x1="278.3" y1="326.3" x2="534.4" y2="302.5" stroke="#a957a8" stroke-width="5.6" stroke-linecap="butt"/>
<line x1="534.4" y1="302.5" x2="605.44" y2="326.3" stroke="#7a3a79" stroke-width="10" stroke-linecap="round"/>
<line x1="534.4" y1="302.5" x2="605.44" y2="326.3" stroke="#a957a8" stroke-width="5.6" stroke-linecap="butt"/>
<circle cx="278.3" cy="326.3" r="5.2" fill="#7a3a79"/>
<circle cx="534.4" cy="302.5" r="5.2" fill="#7a3a79"/>
<circle cx="139.24" cy="349.6" r="5.6" fill="none" stroke="#55e055" stroke-width="2" stroke-opacity="0.4"/>
<circle cx="139.24" cy="349.6" r="3.8" fill="#8b7b8b" stroke="#665266" stroke-width="1.9"/>
<circle cx="605.44" cy="326.3" r="5.6" fill="none" stroke="#55e055" stroke-width="2" stroke-opacity="0.4"/>
<circle cx="605.44" cy="326.3" r="3.8" fill="#8b7b8b" stroke="#665266" stroke-width="1.9"/>
<circle cx="162.55" cy="372.9" r="5.6" fill="none" stroke="#55e055" stroke-width="2"/>
<circle cx="628.75" cy="349.6" r="5.6" fill="none" stroke="#55e055" stroke-width="2"/>
<line x1="162.55" y1="372.9" x2="278.3" y2="349.2" stroke="#b26a37" stroke-width="10" stroke-linecap="round"/>
<line x1="162.55" y1="372.9" x2="278.3" y2="349.2" stroke="#f06400" stroke-width="5.6" stroke-linecap="butt"/>
<line x1="278.3" y1="349.2" x2="534.4" y2="326.7" stroke="#b26a37" stroke-width="10" stroke-linecap="round"/>
<line x1="278.3" y1="349.2" x2="534.4" y2="326.7" stroke="#f06400" stroke-width="5.6" stroke-linecap="butt"/>
<line x1="534.4" y1="326.7" x2="628.75" y2="349.6" stroke="#b26a37" stroke-width="10" stroke-linecap="round"/>
<line x1="534.4" y1="326.7" x2="628.75" y2="349.6" stroke="#f06400" stroke-width="5.6" stroke-linecap="butt"/>
<circle cx="278.3" cy="349.2" r="5.2" fill="#b26a37"/>
<circle cx="534.4" cy="326.7" r="5.2" fill="#b26a37"/>
<circle cx="162.55" cy="372.9" r="5.6" fill="none" stroke="#55e055" stroke-width="2" stroke-opacity="0.4"/>
<circle cx="162.55" cy="372.9" r="3.8" fill="#ca8600" stroke="#a27434" stroke-width="1.9"/>
<circle cx="628.75" cy="349.6" r="5.6" fill="none" stroke="#55e055" stroke-width="2" stroke-opacity="0.4"/>
<circle cx="628.75" cy="349.6" r="3.8" fill="#ca8600" stroke="#a27434" stroke-width="1.9"/>
</svg>
</body></html>
